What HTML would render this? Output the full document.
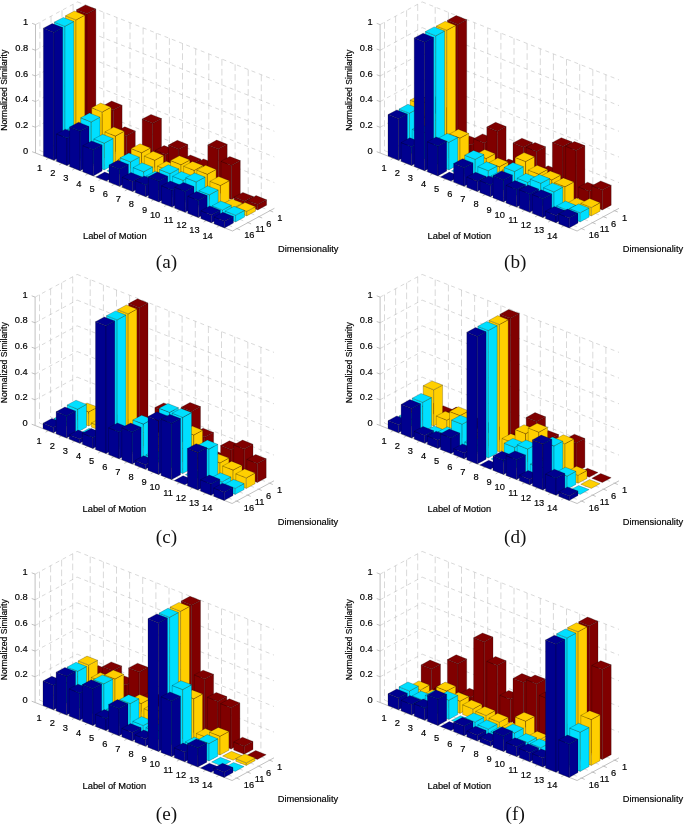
<!DOCTYPE html>
<html lang="en">
<head>
<meta charset="utf-8">
<title>Normalized similarity bar charts</title>
<style>
html,body{margin:0;padding:0;background:#fff;}
body{width:685px;height:826px;overflow:hidden;}
svg{display:block;}
.gr{fill:none;stroke:#b9b9b9;stroke-width:0.55;stroke-dasharray:4 3.8;}
.gv{fill:none;stroke:#b9b9b9;stroke-width:0.55;stroke-dasharray:6.6 3.2;}
.ax{fill:none;stroke:#a6a6a6;stroke-width:0.7;}
.b polygon{stroke:#000;stroke-width:0.32;stroke-opacity:0.7;stroke-linejoin:round;}
.t{font-family:"Liberation Sans",Arial,Helvetica,sans-serif;font-size:9.3px;fill:#000;stroke:#000;stroke-width:0.18px;}
.v{font-size:8.65px;}
.c{font-family:"Liberation Serif","Times New Roman",Times,serif;font-size:19.2px;fill:#111;}
</style>
</head>
<body>
<svg width="685" height="826" viewBox="0 0 685 826">
<rect width="685" height="826" fill="#fff"/>
<g transform="translate(0,0)">
<path class="gr" d="M35.5 127.3L77.5 104.6M77.5 104.6L274.4 182.6M35.5 101.6L77.5 79M77.5 79L274.4 157M35.5 76L77.5 53.3M77.5 53.3L274.4 131.3M35.5 50.3L77.5 27.6M77.5 27.6L274.4 105.6M35.5 24.6L77.5 1.9M77.5 1.9L274.4 79.9M39.9 150.6L236.9 228.6M51 144.6L247.9 222.6M62 138.7L259 216.7M73.1 132.7L270 210.7M48.6 158.2L90.6 135.5M61.8 163.4L103.8 140.7M74.9 168.6L116.9 145.9M88 173.8L130 151.1M101.2 179L143.1 156.3M114.3 184.2L156.3 161.5M127.4 189.4L169.4 166.7M140.5 194.6L182.5 171.9M153.7 199.8L195.7 177.1M166.8 205L208.8 182.3M179.9 210.2L221.9 187.5M193.1 215.4L235.1 192.7M206.2 220.6L248.2 197.9M219.3 225.8L261.3 203.1"/>
<path class="gv" d="M39.9 22.2L39.9 150.6M51 16.2L51 144.6M62 10.3L62 138.7M73.1 4.3L73.1 132.7M90.6 7.1L90.6 135.5M103.8 12.3L103.8 140.7M116.9 17.5L116.9 145.9M130 22.7L130 151.1M143.1 27.9L143.1 156.3M156.3 33.1L156.3 161.5M169.4 38.3L169.4 166.7M182.5 43.5L182.5 171.9M195.7 48.7L195.7 177.1M208.8 53.9L208.8 182.3M221.9 59.1L221.9 187.5M235.1 64.3L235.1 192.7M248.2 69.5L248.2 197.9M261.3 74.7L261.3 203.1"/>
<path class="ax" d="M35.5 153L35.5 24.6M35.5 153L232.5 231M232.5 231L274.4 208.3M35.5 153L32.1 151.7M35.5 127.3L32.1 126M35.5 101.6L32.1 100.3M35.5 76L32.1 74.7M35.5 50.3L32.1 49M35.5 24.6L32.1 23.3M48.6 158.2L46 159.7M61.8 163.4L59.2 164.9M74.9 168.6L72.3 170.1M88 173.8L85.4 175.3M101.2 179L98.6 180.5M114.3 184.2L111.7 185.7M127.4 189.4L124.8 190.9M140.5 194.6L137.9 196.1M153.7 199.8L151.1 201.3M166.8 205L164.2 206.5M179.9 210.2L177.3 211.7M193.1 215.4L190.5 216.9M206.2 220.6L203.6 222.1M219.3 225.8L216.7 227.3M236.9 228.6L240.1 229.9M247.9 222.6L251.1 223.9M259 216.7L262.2 218M270 210.7L273.2 212"/>
<g class="b" fill="#800000"><polygon points="76.5,138.2 87,142.4 87,13.8 76.5,9.7"/><polygon points="87,142.4 95.9,137.6 95.9,9.1 87,13.8"/><polygon points="76.5,9.7 87,13.8 95.9,9.1 85.4,4.9"/><polygon points="89.7,143.4 100.2,147.6 100.2,121.5 89.7,117.3"/><polygon points="100.2,147.6 109,142.8 109,116.7 100.2,121.5"/><polygon points="89.7,117.3 100.2,121.5 109,116.7 98.5,112.6"/><polygon points="102.8,148.6 113.3,152.8 113.3,110 102.8,105.9"/><polygon points="113.3,152.8 122.1,148 122.1,105.2 113.3,110"/><polygon points="102.8,105.9 113.3,110 122.1,105.2 111.6,101.1"/><polygon points="115.9,153.8 126.4,158 126.4,135.8 115.9,131.6"/><polygon points="126.4,158 135.3,153.2 135.3,131 126.4,135.8"/><polygon points="115.9,131.6 126.4,135.8 135.3,131 124.8,126.8"/><polygon points="129,159 139.6,163.2 139.6,159.1 129,154.9"/><polygon points="139.6,163.2 148.4,158.4 148.4,154.3 139.6,159.1"/><polygon points="129,154.9 139.6,159.1 148.4,154.3 137.9,150.1"/><polygon points="142.2,164.2 152.7,168.4 152.7,123.3 142.2,119.1"/><polygon points="152.7,168.4 161.5,163.6 161.5,118.5 152.7,123.3"/><polygon points="142.2,119.1 152.7,123.3 161.5,118.5 151,114.4"/><polygon points="155.3,169.4 165.8,173.6 165.8,154.6 155.3,150.4"/><polygon points="165.8,173.6 174.7,168.8 174.7,149.8 165.8,154.6"/><polygon points="155.3,150.4 165.8,154.6 174.7,149.8 164.1,145.6"/><polygon points="168.4,174.6 178.9,178.8 178.9,149.2 168.4,145.1"/><polygon points="178.9,178.8 187.8,174 187.8,144.5 178.9,149.2"/><polygon points="168.4,145.1 178.9,149.2 187.8,144.5 177.3,140.3"/><polygon points="181.6,179.8 192.1,184 192.1,163.9 181.6,159.8"/><polygon points="192.1,184 200.9,179.2 200.9,159.2 192.1,163.9"/><polygon points="181.6,159.8 192.1,163.9 200.9,159.2 190.4,155"/><polygon points="194.7,185 205.2,189.2 205.2,167.9 194.7,163.7"/><polygon points="205.2,189.2 214,184.4 214,163.1 205.2,167.9"/><polygon points="194.7,163.7 205.2,167.9 214,163.1 203.5,158.9"/><polygon points="207.8,190.2 218.3,194.4 218.3,149 207.8,144.9"/><polygon points="218.3,194.4 227.2,189.6 227.2,144.3 218.3,149"/><polygon points="207.8,144.9 218.3,149 227.2,144.3 216.7,140.1"/><polygon points="221,195.4 231.5,199.6 231.5,165.4 221,161.3"/><polygon points="231.5,199.6 240.3,194.8 240.3,160.6 231.5,165.4"/><polygon points="221,161.3 231.5,165.4 240.3,160.6 229.8,156.5"/><polygon points="234.1,200.6 244.6,204.8 244.6,201.3 234.1,197.1"/><polygon points="244.6,204.8 253.4,200 253.4,196.5 244.6,201.3"/><polygon points="234.1,197.1 244.6,201.3 253.4,196.5 242.9,192.4"/><polygon points="247.2,205.8 257.7,210 257.7,204.6 247.2,200.4"/><polygon points="257.7,210 266.6,205.2 266.6,199.8 257.7,204.6"/><polygon points="247.2,200.4 257.7,204.6 266.6,199.8 256.1,195.6"/></g>
<g class="b" fill="#ffcf00"><polygon points="65.5,144.2 76,148.3 76,19.9 65.5,15.8"/><polygon points="76,148.3 84.8,143.6 84.8,15.2 76,19.9"/><polygon points="65.5,15.8 76,19.9 84.8,15.2 74.3,11"/><polygon points="78.6,149.4 89.1,153.5 89.1,127.5 78.6,123.3"/><polygon points="89.1,153.5 98,148.8 98,122.7 89.1,127.5"/><polygon points="78.6,123.3 89.1,127.5 98,122.7 87.4,118.5"/><polygon points="91.7,154.6 102.2,158.7 102.2,112 91.7,107.8"/><polygon points="102.2,158.7 111.1,154 111.1,107.2 102.2,112"/><polygon points="91.7,107.8 102.2,112 111.1,107.2 100.6,103.1"/><polygon points="104.9,159.8 115.4,163.9 115.4,136.1 104.9,131.9"/><polygon points="115.4,163.9 124.2,159.2 124.2,131.3 115.4,136.1"/><polygon points="104.9,131.9 115.4,136.1 124.2,131.3 113.7,127.1"/><polygon points="118,165 128.5,169.1 128.5,163.7 118,159.6"/><polygon points="128.5,169.1 137.3,164.4 137.3,159 128.5,163.7"/><polygon points="118,159.6 128.5,163.7 137.3,159 126.8,154.8"/><polygon points="131.1,170.2 141.6,174.3 141.6,152.8 131.1,148.6"/><polygon points="141.6,174.3 150.5,169.6 150.5,148 141.6,152.8"/><polygon points="131.1,148.6 141.6,152.8 150.5,148 140,143.8"/><polygon points="144.3,175.4 154.8,179.5 154.8,160.3 144.3,156.1"/><polygon points="154.8,179.5 163.6,174.8 163.6,155.5 154.8,160.3"/><polygon points="144.3,156.1 154.8,160.3 163.6,155.5 153.1,151.3"/><polygon points="157.4,180.6 167.9,184.7 167.9,170.2 157.4,166.1"/><polygon points="167.9,184.7 176.7,180 176.7,165.5 167.9,170.2"/><polygon points="157.4,166.1 167.9,170.2 176.7,165.5 166.2,161.3"/><polygon points="170.5,185.8 181,189.9 181,164.8 170.5,160.6"/><polygon points="181,189.9 189.9,185.2 189.9,160 181,164.8"/><polygon points="170.5,160.6 181,164.8 189.9,160 179.4,155.8"/><polygon points="183.6,191 194.2,195.1 194.2,170.4 183.6,166.2"/><polygon points="194.2,195.1 203,190.4 203,165.6 194.2,170.4"/><polygon points="183.6,166.2 194.2,170.4 203,165.6 192.5,161.4"/><polygon points="196.8,196.2 207.3,200.3 207.3,174.3 196.8,170.1"/><polygon points="207.3,200.3 216.1,195.6 216.1,169.5 207.3,174.3"/><polygon points="196.8,170.1 207.3,174.3 216.1,169.5 205.6,165.3"/><polygon points="209.9,201.4 220.4,205.5 220.4,185.5 209.9,181.3"/><polygon points="220.4,205.5 229.3,200.8 229.3,180.7 220.4,185.5"/><polygon points="209.9,181.3 220.4,185.5 229.3,180.7 218.7,176.6"/><polygon points="223,206.6 233.5,210.7 233.5,207.9 223,203.8"/><polygon points="233.5,210.7 242.4,206 242.4,203.1 233.5,207.9"/><polygon points="223,203.8 233.5,207.9 242.4,203.1 231.9,199"/><polygon points="236.2,211.8 246.7,215.9 246.7,211.4 236.2,207.3"/><polygon points="246.7,215.9 255.5,211.2 255.5,206.7 246.7,211.4"/><polygon points="236.2,207.3 246.7,211.4 255.5,206.7 245,202.5"/></g>
<g class="b" fill="#00dfff"><polygon points="54.4,150.2 64.9,154.3 64.9,26.3 54.4,22.1"/><polygon points="64.9,154.3 73.8,149.5 73.8,21.5 64.9,26.3"/><polygon points="54.4,22.1 64.9,26.3 73.8,21.5 63.3,17.4"/><polygon points="67.6,155.3 78.1,159.5 78.1,133.4 67.6,129.3"/><polygon points="78.1,159.5 86.9,154.7 86.9,128.7 78.1,133.4"/><polygon points="67.6,129.3 78.1,133.4 86.9,128.7 76.4,124.5"/><polygon points="80.7,160.6 91.2,164.7 91.2,122 80.7,117.8"/><polygon points="91.2,164.7 100,159.9 100,117.2 91.2,122"/><polygon points="80.7,117.8 91.2,122 100,117.2 89.5,113"/><polygon points="93.8,165.8 104.3,169.9 104.3,143.2 93.8,139"/><polygon points="104.3,169.9 113.2,165.1 113.2,138.4 104.3,143.2"/><polygon points="93.8,139 104.3,143.2 113.2,138.4 102.7,134.3"/><polygon points="106.9,170.9 115.8,166.2 126.3,170.3 117.5,175.1"/><polygon points="120.1,176.2 130.6,180.3 130.6,161.9 120.1,157.8"/><polygon points="130.6,180.3 139.4,175.5 139.4,157.2 130.6,161.9"/><polygon points="120.1,157.8 130.6,161.9 139.4,157.2 128.9,153"/><polygon points="133.2,181.3 143.7,185.5 143.7,171.8 133.2,167.6"/><polygon points="143.7,185.5 152.6,180.7 152.6,167 143.7,171.8"/><polygon points="133.2,167.6 143.7,171.8 152.6,167 142,162.8"/><polygon points="146.3,186.5 156.8,190.7 156.8,180.2 146.3,176"/><polygon points="156.8,190.7 165.7,185.9 165.7,175.4 156.8,180.2"/><polygon points="146.3,176 156.8,180.2 165.7,175.4 155.2,171.2"/><polygon points="159.5,191.8 170,195.9 170,173.7 159.5,169.5"/><polygon points="170,195.9 178.8,191.1 178.8,168.9 170,173.7"/><polygon points="159.5,169.5 170,173.7 178.8,168.9 168.3,164.8"/><polygon points="172.6,197 183.1,201.1 183.1,180.4 172.6,176.3"/><polygon points="183.1,201.1 191.9,196.3 191.9,175.7 183.1,180.4"/><polygon points="172.6,176.3 183.1,180.4 191.9,175.7 181.4,171.5"/><polygon points="185.7,202.2 196.2,206.3 196.2,181.9 185.7,177.8"/><polygon points="196.2,206.3 205.1,201.5 205.1,177.1 196.2,181.9"/><polygon points="185.7,177.8 196.2,181.9 205.1,177.1 194.6,173"/><polygon points="198.9,207.3 209.4,211.5 209.4,194.8 198.9,190.7"/><polygon points="209.4,211.5 218.2,206.7 218.2,190 209.4,194.8"/><polygon points="198.9,190.7 209.4,194.8 218.2,190 207.7,185.9"/><polygon points="212,212.5 222.5,216.7 222.5,210 212,205.9"/><polygon points="222.5,216.7 231.3,211.9 231.3,205.3 222.5,210"/><polygon points="212,205.9 222.5,210 231.3,205.3 220.8,201.1"/><polygon points="225.1,217.8 235.6,221.9 235.6,215.2 225.1,211.1"/><polygon points="235.6,221.9 244.5,217.1 244.5,210.5 235.6,215.2"/><polygon points="225.1,211.1 235.6,215.2 244.5,210.5 234,206.3"/></g>
<g class="b" fill="#00008f"><polygon points="43.4,156.1 53.9,160.3 53.9,32.4 43.4,28.2"/><polygon points="53.9,160.3 62.7,155.5 62.7,27.6 53.9,32.4"/><polygon points="43.4,28.2 53.9,32.4 62.7,27.6 52.2,23.5"/><polygon points="56.5,161.3 67,165.5 67,138.1 56.5,134"/><polygon points="67,165.5 75.9,160.7 75.9,133.4 67,138.1"/><polygon points="56.5,134 67,138.1 75.9,133.4 65.3,129.2"/><polygon points="69.6,166.5 80.1,170.7 80.1,131.1 69.6,127"/><polygon points="80.1,170.7 89,165.9 89,126.4 80.1,131.1"/><polygon points="69.6,127 80.1,131.1 89,126.4 78.5,122.2"/><polygon points="82.8,171.7 93.3,175.9 93.3,149.8 82.8,145.7"/><polygon points="93.3,175.9 102.1,171.1 102.1,145 93.3,149.8"/><polygon points="82.8,145.7 93.3,149.8 102.1,145 91.6,140.9"/><polygon points="95.9,176.9 104.7,172.1 115.2,176.3 106.4,181.1"/><polygon points="109,182.1 119.5,186.3 119.5,169.2 109,165"/><polygon points="119.5,186.3 128.4,181.5 128.4,164.4 119.5,169.2"/><polygon points="109,165 119.5,169.2 128.4,164.4 117.9,160.3"/><polygon points="122.2,187.3 132.7,191.5 132.7,181.5 122.2,177.3"/><polygon points="132.7,191.5 141.5,186.7 141.5,176.7 132.7,181.5"/><polygon points="122.2,177.3 132.7,181.5 141.5,176.7 131,172.5"/><polygon points="135.3,192.5 145.8,196.7 145.8,184.9 135.3,180.7"/><polygon points="145.8,196.7 154.6,191.9 154.6,180.1 145.8,184.9"/><polygon points="135.3,180.7 145.8,184.9 154.6,180.1 144.1,175.9"/><polygon points="148.4,197.7 158.9,201.9 158.9,181 148.4,176.8"/><polygon points="158.9,201.9 167.8,197.1 167.8,176.2 158.9,181"/><polygon points="148.4,176.8 158.9,181 167.8,176.2 157.3,172"/><polygon points="161.5,202.9 172.1,207.1 172.1,190 161.5,185.8"/><polygon points="172.1,207.1 180.9,202.3 180.9,185.2 172.1,190"/><polygon points="161.5,185.8 172.1,190 180.9,185.2 170.4,181.1"/><polygon points="174.7,208.1 185.2,212.3 185.2,191.4 174.7,187.2"/><polygon points="185.2,212.3 194,207.5 194,186.6 185.2,191.4"/><polygon points="174.7,187.2 185.2,191.4 194,186.6 183.5,182.4"/><polygon points="187.8,213.3 198.3,217.5 198.3,200.4 187.8,196.2"/><polygon points="198.3,217.5 207.2,212.7 207.2,195.6 198.3,200.4"/><polygon points="187.8,196.2 198.3,200.4 207.2,195.6 196.6,191.5"/><polygon points="200.9,218.5 211.4,222.7 211.4,215 200.9,210.8"/><polygon points="211.4,222.7 220.3,217.9 220.3,210.2 211.4,215"/><polygon points="200.9,210.8 211.4,215 220.3,210.2 209.8,206"/><polygon points="214.1,223.7 224.6,227.9 224.6,221.2 214.1,217"/><polygon points="224.6,227.9 233.4,223.1 233.4,216.4 224.6,221.2"/><polygon points="214.1,217 224.6,221.2 233.4,216.4 222.9,212.3"/></g>
<text class="t" text-anchor="end" x="28.2" y="153.5">0</text><text class="t" text-anchor="end" x="28.2" y="127.8">0.2</text><text class="t" text-anchor="end" x="28.2" y="102.1">0.4</text><text class="t" text-anchor="end" x="28.2" y="76.5">0.6</text><text class="t" text-anchor="end" x="28.2" y="50.8">0.8</text><text class="t" text-anchor="end" x="28.2" y="25.1">1</text><text class="t" text-anchor="end" x="42.1" y="171">1</text><text class="t" text-anchor="end" x="55.3" y="176.2">2</text><text class="t" text-anchor="end" x="68.4" y="181.4">3</text><text class="t" text-anchor="end" x="81.5" y="186.6">4</text><text class="t" text-anchor="end" x="94.7" y="191.8">5</text><text class="t" text-anchor="end" x="107.8" y="197">6</text><text class="t" text-anchor="end" x="120.9" y="202.2">7</text><text class="t" text-anchor="end" x="134" y="207.4">8</text><text class="t" text-anchor="end" x="147.2" y="212.6">9</text><text class="t" text-anchor="end" x="160.3" y="217.8">10</text><text class="t" text-anchor="end" x="173.4" y="223">11</text><text class="t" text-anchor="end" x="186.6" y="228.2">12</text><text class="t" text-anchor="end" x="199.7" y="233.4">13</text><text class="t" text-anchor="end" x="212.8" y="238.6">14</text><text class="t" x="244.2" y="238.4">16</text><text class="t" x="255.2" y="232.4">11</text><text class="t" x="266.3" y="226.5">6</text><text class="t" x="277.3" y="220.5">1</text><text class="t v" text-anchor="middle" transform="translate(7.2,90.3) rotate(-90)">Normalized Similarity</text><text class="t" text-anchor="middle" x="114.8" y="239">Label of Motion</text><text class="t" text-anchor="middle" x="308.3" y="252.4">Dimensionality</text>
</g>
<g transform="translate(344.6,0)">
<path class="gr" d="M35.5 127.3L77.5 104.6M77.5 104.6L274.4 182.6M35.5 101.6L77.5 79M77.5 79L274.4 157M35.5 76L77.5 53.3M77.5 53.3L274.4 131.3M35.5 50.3L77.5 27.6M77.5 27.6L274.4 105.6M35.5 24.6L77.5 1.9M77.5 1.9L274.4 79.9M39.9 150.6L236.9 228.6M51 144.6L247.9 222.6M62 138.7L259 216.7M73.1 132.7L270 210.7M48.6 158.2L90.6 135.5M61.8 163.4L103.8 140.7M74.9 168.6L116.9 145.9M88 173.8L130 151.1M101.2 179L143.1 156.3M114.3 184.2L156.3 161.5M127.4 189.4L169.4 166.7M140.5 194.6L182.5 171.9M153.7 199.8L195.7 177.1M166.8 205L208.8 182.3M179.9 210.2L221.9 187.5M193.1 215.4L235.1 192.7M206.2 220.6L248.2 197.9M219.3 225.8L261.3 203.1"/>
<path class="gv" d="M39.9 22.2L39.9 150.6M51 16.2L51 144.6M62 10.3L62 138.7M73.1 4.3L73.1 132.7M90.6 7.1L90.6 135.5M103.8 12.3L103.8 140.7M116.9 17.5L116.9 145.9M130 22.7L130 151.1M143.1 27.9L143.1 156.3M156.3 33.1L156.3 161.5M169.4 38.3L169.4 166.7M182.5 43.5L182.5 171.9M195.7 48.7L195.7 177.1M208.8 53.9L208.8 182.3M221.9 59.1L221.9 187.5M235.1 64.3L235.1 192.7M248.2 69.5L248.2 197.9M261.3 74.7L261.3 203.1"/>
<path class="ax" d="M35.5 153L35.5 24.6M35.5 153L232.5 231M232.5 231L274.4 208.3M35.5 153L32.1 151.7M35.5 127.3L32.1 126M35.5 101.6L32.1 100.3M35.5 76L32.1 74.7M35.5 50.3L32.1 49M35.5 24.6L32.1 23.3M48.6 158.2L46 159.7M61.8 163.4L59.2 164.9M74.9 168.6L72.3 170.1M88 173.8L85.4 175.3M101.2 179L98.6 180.5M114.3 184.2L111.7 185.7M127.4 189.4L124.8 190.9M140.5 194.6L137.9 196.1M153.7 199.8L151.1 201.3M166.8 205L164.2 206.5M179.9 210.2L177.3 211.7M193.1 215.4L190.5 216.9M206.2 220.6L203.6 222.1M219.3 225.8L216.7 227.3M236.9 228.6L240.1 229.9M247.9 222.6L251.1 223.9M259 216.7L262.2 218M270 210.7L273.2 212"/>
<g class="b" fill="#800000"><polygon points="76.5,138.2 87,142.4 87,103.5 76.5,99.3"/><polygon points="87,142.4 95.9,137.6 95.9,98.7 87,103.5"/><polygon points="76.5,99.3 87,103.5 95.9,98.7 85.4,94.5"/><polygon points="89.7,143.4 100.2,147.6 100.2,115.1 89.7,110.9"/><polygon points="100.2,147.6 109,142.8 109,110.3 100.2,115.1"/><polygon points="89.7,110.9 100.2,115.1 109,110.3 98.5,106.1"/><polygon points="102.8,148.6 113.3,152.8 113.3,24.5 102.8,20.3"/><polygon points="113.3,152.8 122.1,148 122.1,19.7 113.3,24.5"/><polygon points="102.8,20.3 113.3,24.5 122.1,19.7 111.6,15.6"/><polygon points="115.9,153.8 126.4,158 126.4,144.9 115.9,140.7"/><polygon points="126.4,158 135.3,153.2 135.3,140.1 126.4,144.9"/><polygon points="115.9,140.7 126.4,144.9 135.3,140.1 124.8,135.9"/><polygon points="129,159 139.6,163.2 139.6,142.9 129,138.7"/><polygon points="139.6,163.2 148.4,158.4 148.4,138.1 139.6,142.9"/><polygon points="129,138.7 139.6,142.9 148.4,138.1 137.9,133.9"/><polygon points="142.2,164.2 152.7,168.4 152.7,131.3 142.2,127.1"/><polygon points="152.7,168.4 161.5,163.6 161.5,126.5 152.7,131.3"/><polygon points="142.2,127.1 152.7,131.3 161.5,126.5 151,122.3"/><polygon points="155.3,169.4 165.8,173.6 165.8,167.9 155.3,163.8"/><polygon points="165.8,173.6 174.7,168.8 174.7,163.1 165.8,167.9"/><polygon points="155.3,163.8 165.8,167.9 174.7,163.1 164.1,159"/><polygon points="168.4,174.6 178.9,178.8 178.9,147.2 168.4,143"/><polygon points="178.9,178.8 187.8,174 187.8,142.4 178.9,147.2"/><polygon points="168.4,143 178.9,147.2 187.8,142.4 177.3,138.2"/><polygon points="181.6,179.8 192.1,184 192.1,151.5 181.6,147.3"/><polygon points="192.1,184 200.9,179.2 200.9,146.7 192.1,151.5"/><polygon points="181.6,147.3 192.1,151.5 200.9,146.7 190.4,142.5"/><polygon points="194.7,185 205.2,189.2 205.2,174.7 194.7,170.5"/><polygon points="205.2,189.2 214,184.4 214,169.9 205.2,174.7"/><polygon points="194.7,170.5 205.2,174.7 214,169.9 203.5,165.7"/><polygon points="207.8,190.2 218.3,194.4 218.3,146.6 207.8,142.4"/><polygon points="218.3,194.4 227.2,189.6 227.2,141.8 218.3,146.6"/><polygon points="207.8,142.4 218.3,146.6 227.2,141.8 216.7,137.7"/><polygon points="221,195.4 231.5,199.6 231.5,150.4 221,146.2"/><polygon points="231.5,199.6 240.3,194.8 240.3,145.6 231.5,150.4"/><polygon points="221,146.2 231.5,150.4 240.3,145.6 229.8,141.5"/><polygon points="234.1,200.6 244.6,204.8 244.6,191.2 234.1,187"/><polygon points="244.6,204.8 253.4,200 253.4,186.4 244.6,191.2"/><polygon points="234.1,187 244.6,191.2 253.4,186.4 242.9,182.2"/><polygon points="247.2,205.8 257.7,210 257.7,189.9 247.2,185.8"/><polygon points="257.7,210 266.6,205.2 266.6,185.2 257.7,189.9"/><polygon points="247.2,185.8 257.7,189.9 266.6,185.2 256.1,181"/></g>
<g class="b" fill="#ffcf00"><polygon points="65.5,144.2 76,148.3 76,104.3 65.5,100.1"/><polygon points="76,148.3 84.8,143.6 84.8,99.5 76,104.3"/><polygon points="65.5,100.1 76,104.3 84.8,99.5 74.3,95.4"/><polygon points="78.6,149.4 89.1,153.5 89.1,121.1 78.6,116.9"/><polygon points="89.1,153.5 98,148.8 98,116.3 89.1,121.1"/><polygon points="78.6,116.9 89.1,121.1 98,116.3 87.4,112.1"/><polygon points="91.7,154.6 102.2,158.7 102.2,30.2 91.7,26.1"/><polygon points="102.2,158.7 111.1,154 111.1,25.4 102.2,30.2"/><polygon points="91.7,26.1 102.2,30.2 111.1,25.4 100.6,21.3"/><polygon points="104.9,159.8 115.4,163.9 115.4,138.1 104.9,134"/><polygon points="115.4,163.9 124.2,159.2 124.2,133.4 115.4,138.1"/><polygon points="104.9,134 115.4,138.1 124.2,133.4 113.7,129.2"/><polygon points="118,165 128.5,169.1 128.5,163.7 118,159.6"/><polygon points="128.5,169.1 137.3,164.4 137.3,159 128.5,163.7"/><polygon points="118,159.6 128.5,163.7 137.3,159 126.8,154.8"/><polygon points="131.1,170.2 141.6,174.3 141.6,158.5 131.1,154.4"/><polygon points="141.6,174.3 150.5,169.6 150.5,153.8 141.6,158.5"/><polygon points="131.1,154.4 141.6,158.5 150.5,153.8 140,149.6"/><polygon points="144.3,175.4 154.8,179.5 154.8,166.8 144.3,162.7"/><polygon points="154.8,179.5 163.6,174.8 163.6,162.1 154.8,166.8"/><polygon points="144.3,162.7 154.8,166.8 163.6,162.1 153.1,157.9"/><polygon points="157.4,180.6 167.9,184.7 167.9,174.2 157.4,170.1"/><polygon points="167.9,184.7 176.7,180 176.7,169.4 167.9,174.2"/><polygon points="157.4,170.1 167.9,174.2 176.7,169.4 166.2,165.3"/><polygon points="170.5,185.8 181,189.9 181,161.6 170.5,157.4"/><polygon points="181,189.9 189.9,185.2 189.9,156.8 181,161.6"/><polygon points="170.5,157.4 181,161.6 189.9,156.8 179.4,152.6"/><polygon points="183.6,191 194.2,195.1 194.2,174.2 183.6,170.1"/><polygon points="194.2,195.1 203,190.4 203,169.4 194.2,174.2"/><polygon points="183.6,170.1 194.2,174.2 203,169.4 192.5,165.3"/><polygon points="196.8,196.2 207.3,200.3 207.3,179.9 196.8,175.8"/><polygon points="207.3,200.3 216.1,195.6 216.1,175.1 207.3,179.9"/><polygon points="196.8,175.8 207.3,179.9 216.1,175.1 205.6,171"/><polygon points="209.9,201.4 220.4,205.5 220.4,186.8 209.9,182.6"/><polygon points="220.4,205.5 229.3,200.8 229.3,182 220.4,186.8"/><polygon points="209.9,182.6 220.4,186.8 229.3,182 218.7,177.9"/><polygon points="223,206.6 233.5,210.7 233.5,207 223,202.9"/><polygon points="233.5,210.7 242.4,206 242.4,202.2 233.5,207"/><polygon points="223,202.9 233.5,207 242.4,202.2 231.9,198.1"/><polygon points="236.2,211.8 246.7,215.9 246.7,207.5 236.2,203.3"/><polygon points="246.7,215.9 255.5,211.2 255.5,202.7 246.7,207.5"/><polygon points="236.2,203.3 246.7,207.5 255.5,202.7 245,198.5"/></g>
<g class="b" fill="#00dfff"><polygon points="54.4,150.2 64.9,154.3 64.9,113.2 54.4,109.1"/><polygon points="64.9,154.3 73.8,149.5 73.8,108.4 64.9,113.2"/><polygon points="54.4,109.1 64.9,113.2 73.8,108.4 63.3,104.3"/><polygon points="67.6,155.3 78.1,159.5 78.1,133.4 67.6,129.3"/><polygon points="78.1,159.5 86.9,154.7 86.9,128.7 78.1,133.4"/><polygon points="67.6,129.3 78.1,133.4 86.9,128.7 76.4,124.5"/><polygon points="80.7,160.6 91.2,164.7 91.2,35.8 80.7,31.6"/><polygon points="91.2,164.7 100,159.9 100,31 91.2,35.8"/><polygon points="80.7,31.6 91.2,35.8 100,31 89.5,26.9"/><polygon points="93.8,165.8 104.3,169.9 104.3,142.3 93.8,138.1"/><polygon points="104.3,169.9 113.2,165.1 113.2,137.5 104.3,142.3"/><polygon points="93.8,138.1 104.3,142.3 113.2,137.5 102.7,133.4"/><polygon points="106.9,170.9 115.8,166.2 126.3,170.3 117.5,175.1"/><polygon points="120.1,176.2 130.6,180.3 130.6,159.4 120.1,155.2"/><polygon points="130.6,180.3 139.4,175.5 139.4,154.6 130.6,159.4"/><polygon points="120.1,155.2 130.6,159.4 139.4,154.6 128.9,150.4"/><polygon points="133.2,181.3 143.7,185.5 143.7,170.7 133.2,166.6"/><polygon points="143.7,185.5 152.6,180.7 152.6,166 143.7,170.7"/><polygon points="133.2,166.6 143.7,170.7 152.6,166 142,161.8"/><polygon points="146.3,186.5 156.8,190.7 156.8,180.2 146.3,176"/><polygon points="156.8,190.7 165.7,185.9 165.7,175.4 156.8,180.2"/><polygon points="146.3,176 156.8,180.2 165.7,175.4 155.2,171.2"/><polygon points="159.5,191.8 170,195.9 170,171.5 159.5,167.4"/><polygon points="170,195.9 178.8,191.1 178.8,166.7 170,171.5"/><polygon points="159.5,167.4 170,171.5 178.8,166.7 168.3,162.6"/><polygon points="172.6,197 183.1,201.1 183.1,182.4 172.6,178.2"/><polygon points="183.1,201.1 191.9,196.3 191.9,177.6 183.1,182.4"/><polygon points="172.6,178.2 183.1,182.4 191.9,177.6 181.4,173.4"/><polygon points="185.7,202.2 196.2,206.3 196.2,183.3 185.7,179.2"/><polygon points="196.2,206.3 205.1,201.5 205.1,178.6 196.2,183.3"/><polygon points="185.7,179.2 196.2,183.3 205.1,178.6 194.6,174.4"/><polygon points="198.9,207.3 209.4,211.5 209.4,191.9 198.9,187.7"/><polygon points="209.4,211.5 218.2,206.7 218.2,187.1 209.4,191.9"/><polygon points="198.9,187.7 209.4,191.9 218.2,187.1 207.7,182.9"/><polygon points="212,212.5 222.5,216.7 222.5,210 212,205.9"/><polygon points="222.5,216.7 231.3,211.9 231.3,205.3 222.5,210"/><polygon points="212,205.9 222.5,210 231.3,205.3 220.8,201.1"/><polygon points="225.1,217.8 235.6,221.9 235.6,212.8 225.1,208.6"/><polygon points="235.6,221.9 244.5,217.1 244.5,208 235.6,212.8"/><polygon points="225.1,208.6 235.6,212.8 244.5,208 234,203.9"/></g>
<g class="b" fill="#00008f"><polygon points="43.4,156.1 53.9,160.3 53.9,118.8 43.4,114.6"/><polygon points="53.9,160.3 62.7,155.5 62.7,114 53.9,118.8"/><polygon points="43.4,114.6 53.9,118.8 62.7,114 52.2,109.9"/><polygon points="56.5,161.3 67,165.5 67,146.7 56.5,142.6"/><polygon points="67,165.5 75.9,160.7 75.9,142 67,146.7"/><polygon points="56.5,142.6 67,146.7 75.9,142 65.3,137.8"/><polygon points="69.6,166.5 80.1,170.7 80.1,42.2 69.6,38"/><polygon points="80.1,170.7 89,165.9 89,37.4 80.1,42.2"/><polygon points="69.6,38 80.1,42.2 89,37.4 78.5,33.2"/><polygon points="82.8,171.7 93.3,175.9 93.3,146 82.8,141.8"/><polygon points="93.3,175.9 102.1,171.1 102.1,141.2 93.3,146"/><polygon points="82.8,141.8 93.3,146 102.1,141.2 91.6,137"/><polygon points="95.9,176.9 104.7,172.1 115.2,176.3 106.4,181.1"/><polygon points="109,182.1 119.5,186.3 119.5,167.7 109,163.5"/><polygon points="119.5,186.3 128.4,181.5 128.4,162.9 119.5,167.7"/><polygon points="109,163.5 119.5,167.7 128.4,162.9 117.9,158.7"/><polygon points="122.2,187.3 132.7,191.5 132.7,181.2 122.2,177"/><polygon points="132.7,191.5 141.5,186.7 141.5,176.4 132.7,181.2"/><polygon points="122.2,177 132.7,181.2 141.5,176.4 131,172.3"/><polygon points="135.3,192.5 145.8,196.7 145.8,184.9 135.3,180.7"/><polygon points="145.8,196.7 154.6,191.9 154.6,180.1 145.8,184.9"/><polygon points="135.3,180.7 145.8,184.9 154.6,180.1 144.1,175.9"/><polygon points="148.4,197.7 158.9,201.9 158.9,179.9 148.4,175.8"/><polygon points="158.9,201.9 167.8,197.1 167.8,175.1 158.9,179.9"/><polygon points="148.4,175.8 158.9,179.9 167.8,175.1 157.3,171"/><polygon points="161.5,202.9 172.1,207.1 172.1,189.5 161.5,185.3"/><polygon points="172.1,207.1 180.9,202.3 180.9,184.7 172.1,189.5"/><polygon points="161.5,185.3 172.1,189.5 180.9,184.7 170.4,180.6"/><polygon points="174.7,208.1 185.2,212.3 185.2,193.9 174.7,189.8"/><polygon points="185.2,212.3 194,207.5 194,189.1 185.2,193.9"/><polygon points="174.7,189.8 185.2,193.9 194,189.1 183.5,185"/><polygon points="187.8,213.3 198.3,217.5 198.3,198.7 187.8,194.6"/><polygon points="198.3,217.5 207.2,212.7 207.2,194 198.3,198.7"/><polygon points="187.8,194.6 198.3,198.7 207.2,194 196.6,189.8"/><polygon points="200.9,218.5 211.4,222.7 211.4,215.4 200.9,211.2"/><polygon points="211.4,222.7 220.3,217.9 220.3,210.6 211.4,215.4"/><polygon points="200.9,211.2 211.4,215.4 220.3,210.6 209.8,206.4"/><polygon points="214.1,223.7 224.6,227.9 224.6,218 214.1,213.8"/><polygon points="224.6,227.9 233.4,223.1 233.4,213.2 224.6,218"/><polygon points="214.1,213.8 224.6,218 233.4,213.2 222.9,209.1"/></g>
<text class="t" text-anchor="end" x="28.2" y="153.5">0</text><text class="t" text-anchor="end" x="28.2" y="127.8">0.2</text><text class="t" text-anchor="end" x="28.2" y="102.1">0.4</text><text class="t" text-anchor="end" x="28.2" y="76.5">0.6</text><text class="t" text-anchor="end" x="28.2" y="50.8">0.8</text><text class="t" text-anchor="end" x="28.2" y="25.1">1</text><text class="t" text-anchor="end" x="42.1" y="171">1</text><text class="t" text-anchor="end" x="55.3" y="176.2">2</text><text class="t" text-anchor="end" x="68.4" y="181.4">3</text><text class="t" text-anchor="end" x="81.5" y="186.6">4</text><text class="t" text-anchor="end" x="94.7" y="191.8">5</text><text class="t" text-anchor="end" x="107.8" y="197">6</text><text class="t" text-anchor="end" x="120.9" y="202.2">7</text><text class="t" text-anchor="end" x="134" y="207.4">8</text><text class="t" text-anchor="end" x="147.2" y="212.6">9</text><text class="t" text-anchor="end" x="160.3" y="217.8">10</text><text class="t" text-anchor="end" x="173.4" y="223">11</text><text class="t" text-anchor="end" x="186.6" y="228.2">12</text><text class="t" text-anchor="end" x="199.7" y="233.4">13</text><text class="t" text-anchor="end" x="212.8" y="238.6">14</text><text class="t" x="244.2" y="238.4">16</text><text class="t" x="255.2" y="232.4">11</text><text class="t" x="266.3" y="226.5">6</text><text class="t" x="277.3" y="220.5">1</text><text class="t v" text-anchor="middle" transform="translate(7.2,90.3) rotate(-90)">Normalized Similarity</text><text class="t" text-anchor="middle" x="114.8" y="239">Label of Motion</text><text class="t" text-anchor="middle" x="308.3" y="252.4">Dimensionality</text>
</g>
<g transform="translate(-0.4,272.5)">
<path class="gr" d="M35.5 127.3L77.5 104.6M77.5 104.6L274.4 182.6M35.5 101.6L77.5 79M77.5 79L274.4 157M35.5 76L77.5 53.3M77.5 53.3L274.4 131.3M35.5 50.3L77.5 27.6M77.5 27.6L274.4 105.6M35.5 24.6L77.5 1.9M77.5 1.9L274.4 79.9M39.9 150.6L236.9 228.6M51 144.6L247.9 222.6M62 138.7L259 216.7M73.1 132.7L270 210.7M48.6 158.2L90.6 135.5M61.8 163.4L103.8 140.7M74.9 168.6L116.9 145.9M88 173.8L130 151.1M101.2 179L143.1 156.3M114.3 184.2L156.3 161.5M127.4 189.4L169.4 166.7M140.5 194.6L182.5 171.9M153.7 199.8L195.7 177.1M166.8 205L208.8 182.3M179.9 210.2L221.9 187.5M193.1 215.4L235.1 192.7M206.2 220.6L248.2 197.9M219.3 225.8L261.3 203.1"/>
<path class="gv" d="M39.9 22.2L39.9 150.6M51 16.2L51 144.6M62 10.3L62 138.7M73.1 4.3L73.1 132.7M90.6 7.1L90.6 135.5M103.8 12.3L103.8 140.7M116.9 17.5L116.9 145.9M130 22.7L130 151.1M143.1 27.9L143.1 156.3M156.3 33.1L156.3 161.5M169.4 38.3L169.4 166.7M182.5 43.5L182.5 171.9M195.7 48.7L195.7 177.1M208.8 53.9L208.8 182.3M221.9 59.1L221.9 187.5M235.1 64.3L235.1 192.7M248.2 69.5L248.2 197.9M261.3 74.7L261.3 203.1"/>
<path class="ax" d="M35.5 153L35.5 24.6M35.5 153L232.5 231M232.5 231L274.4 208.3M35.5 153L32.1 151.7M35.5 127.3L32.1 126M35.5 101.6L32.1 100.3M35.5 76L32.1 74.7M35.5 50.3L32.1 49M35.5 24.6L32.1 23.3M48.6 158.2L46 159.7M61.8 163.4L59.2 164.9M74.9 168.6L72.3 170.1M88 173.8L85.4 175.3M101.2 179L98.6 180.5M114.3 184.2L111.7 185.7M127.4 189.4L124.8 190.9M140.5 194.6L137.9 196.1M153.7 199.8L151.1 201.3M166.8 205L164.2 206.5M179.9 210.2L177.3 211.7M193.1 215.4L190.5 216.9M206.2 220.6L203.6 222.1M219.3 225.8L216.7 227.3M236.9 228.6L240.1 229.9M247.9 222.6L251.1 223.9M259 216.7L262.2 218M270 210.7L273.2 212"/>
<g class="b" fill="#800000"><polygon points="76.5,138.2 87,142.4 87,141.7 76.5,137.6"/><polygon points="87,142.4 95.9,137.6 95.9,137 87,141.7"/><polygon points="76.5,137.6 87,141.7 95.9,137 85.4,132.8"/><polygon points="89.7,143.4 100.2,147.6 100.2,143.7 89.7,139.6"/><polygon points="100.2,147.6 109,142.8 109,138.9 100.2,143.7"/><polygon points="89.7,139.6 100.2,143.7 109,138.9 98.5,134.8"/><polygon points="102.8,148.6 113.3,152.8 113.3,148.7 102.8,144.5"/><polygon points="113.3,152.8 122.1,148 122.1,143.9 113.3,148.7"/><polygon points="102.8,144.5 113.3,148.7 122.1,143.9 111.6,139.7"/><polygon points="115.9,153.8 126.4,158 126.4,153.9 115.9,149.7"/><polygon points="126.4,158 135.3,153.2 135.3,149.1 126.4,153.9"/><polygon points="115.9,149.7 126.4,153.9 135.3,149.1 124.8,144.9"/><polygon points="129,159 139.6,163.2 139.6,35.3 129,31.1"/><polygon points="139.6,163.2 148.4,158.4 148.4,30.5 139.6,35.3"/><polygon points="129,31.1 139.6,35.3 148.4,30.5 137.9,26.3"/><polygon points="142.2,164.2 152.7,168.4 152.7,155.3 142.2,151.1"/><polygon points="152.7,168.4 161.5,163.6 161.5,150.5 152.7,155.3"/><polygon points="142.2,151.1 152.7,155.3 161.5,150.5 151,146.3"/><polygon points="155.3,169.4 165.8,173.6 165.8,139.3 155.3,135.1"/><polygon points="165.8,173.6 174.7,168.8 174.7,134.5 165.8,139.3"/><polygon points="155.3,135.1 165.8,139.3 174.7,134.5 164.1,130.4"/><polygon points="168.4,174.6 178.9,178.8 178.9,165.7 168.4,161.5"/><polygon points="178.9,178.8 187.8,174 187.8,160.9 178.9,165.7"/><polygon points="168.4,161.5 178.9,165.7 187.8,160.9 177.3,156.7"/><polygon points="181.6,179.8 192.1,184 192.1,138.9 181.6,134.7"/><polygon points="192.1,184 200.9,179.2 200.9,134.1 192.1,138.9"/><polygon points="181.6,134.7 192.1,138.9 200.9,134.1 190.4,130"/><polygon points="194.7,185 205.2,189.2 205.2,164.6 194.7,160.5"/><polygon points="205.2,189.2 214,184.4 214,159.9 205.2,164.6"/><polygon points="194.7,160.5 205.2,164.6 214,159.9 203.5,155.7"/><polygon points="207.8,190.2 218.3,194.4 218.3,187.7 207.8,183.5"/><polygon points="218.3,194.4 227.2,189.6 227.2,182.9 218.3,187.7"/><polygon points="207.8,183.5 218.3,187.7 227.2,182.9 216.7,178.8"/><polygon points="221,195.4 231.5,199.6 231.5,177.2 221,173.1"/><polygon points="231.5,199.6 240.3,194.8 240.3,172.5 231.5,177.2"/><polygon points="221,173.1 231.5,177.2 240.3,172.5 229.8,168.3"/><polygon points="234.1,200.6 244.6,204.8 244.6,176.5 234.1,172.4"/><polygon points="244.6,204.8 253.4,200 253.4,171.7 244.6,176.5"/><polygon points="234.1,172.4 244.6,176.5 253.4,171.7 242.9,167.6"/><polygon points="247.2,205.8 257.7,210 257.7,191 247.2,186.8"/><polygon points="257.7,210 266.6,205.2 266.6,186.2 257.7,191"/><polygon points="247.2,186.8 257.7,191 266.6,186.2 256.1,182"/></g>
<g class="b" fill="#ffcf00"><polygon points="65.5,144.2 76,148.3 76,144.2 65.5,140.1"/><polygon points="76,148.3 84.8,143.6 84.8,139.5 76,144.2"/><polygon points="65.5,140.1 76,144.2 84.8,139.5 74.3,135.3"/><polygon points="78.6,149.4 89.1,153.5 89.1,139.4 78.6,135.3"/><polygon points="89.1,153.5 98,148.8 98,134.6 89.1,139.4"/><polygon points="78.6,135.3 89.1,139.4 98,134.6 87.4,130.5"/><polygon points="91.7,154.6 102.2,158.7 102.2,154.6 91.7,150.5"/><polygon points="102.2,158.7 111.1,154 111.1,149.9 102.2,154.6"/><polygon points="91.7,150.5 102.2,154.6 111.1,149.9 100.6,145.7"/><polygon points="104.9,159.8 115.4,163.9 115.4,157.3 104.9,153.1"/><polygon points="115.4,163.9 124.2,159.2 124.2,152.5 115.4,157.3"/><polygon points="104.9,153.1 115.4,157.3 124.2,152.5 113.7,148.3"/><polygon points="118,165 128.5,169.1 128.5,41.4 118,37.2"/><polygon points="128.5,169.1 137.3,164.4 137.3,36.6 128.5,41.4"/><polygon points="118,37.2 128.5,41.4 137.3,36.6 126.8,32.4"/><polygon points="131.1,170.2 141.6,174.3 141.6,161.2 131.1,157.1"/><polygon points="141.6,174.3 150.5,169.6 150.5,156.5 141.6,161.2"/><polygon points="131.1,157.1 141.6,161.2 150.5,156.5 140,152.3"/><polygon points="144.3,175.4 154.8,179.5 154.8,166.4 144.3,162.3"/><polygon points="154.8,179.5 163.6,174.8 163.6,161.7 154.8,166.4"/><polygon points="144.3,162.3 154.8,166.4 163.6,161.7 153.1,157.5"/><polygon points="157.4,180.6 167.9,184.7 167.9,178.1 157.4,173.9"/><polygon points="167.9,184.7 176.7,180 176.7,173.3 167.9,178.1"/><polygon points="157.4,173.9 167.9,178.1 176.7,173.3 166.2,169.1"/><polygon points="170.5,185.8 181,189.9 181,176.8 170.5,172.7"/><polygon points="181,189.9 189.9,185.2 189.9,172.1 181,176.8"/><polygon points="170.5,172.7 181,176.8 189.9,172.1 179.4,167.9"/><polygon points="183.6,191 194.2,195.1 194.2,162.5 183.6,158.4"/><polygon points="194.2,195.1 203,190.4 203,157.8 194.2,162.5"/><polygon points="183.6,158.4 194.2,162.5 203,157.8 192.5,153.6"/><polygon points="196.8,196.2 207.3,200.3 207.3,189.8 196.8,185.7"/><polygon points="207.3,200.3 216.1,195.6 216.1,185 207.3,189.8"/><polygon points="196.8,185.7 207.3,189.8 216.1,185 205.6,180.9"/><polygon points="209.9,201.4 220.4,205.5 220.4,190.4 209.9,186.2"/><polygon points="220.4,205.5 229.3,200.8 229.3,185.6 220.4,190.4"/><polygon points="209.9,186.2 220.4,190.4 229.3,185.6 218.7,181.5"/><polygon points="223,206.6 233.5,210.7 233.5,197.6 223,193.5"/><polygon points="233.5,210.7 242.4,206 242.4,192.9 233.5,197.6"/><polygon points="223,193.5 233.5,197.6 242.4,192.9 231.9,188.7"/><polygon points="236.2,211.8 246.7,215.9 246.7,205.4 236.2,201.3"/><polygon points="246.7,215.9 255.5,211.2 255.5,200.6 246.7,205.4"/><polygon points="236.2,201.3 246.7,205.4 255.5,200.6 245,196.5"/></g>
<g class="b" fill="#00dfff"><polygon points="54.4,150.2 64.9,154.3 64.9,150.2 54.4,146"/><polygon points="64.9,154.3 73.8,149.5 73.8,145.4 64.9,150.2"/><polygon points="54.4,146 64.9,150.2 73.8,145.4 63.3,141.3"/><polygon points="67.6,155.3 78.1,159.5 78.1,136.7 67.6,132.5"/><polygon points="78.1,159.5 86.9,154.7 86.9,131.9 78.1,136.7"/><polygon points="67.6,132.5 78.1,136.7 86.9,131.9 76.4,127.7"/><polygon points="80.7,160.6 89.5,155.8 100,159.9 91.2,164.7"/><polygon points="93.8,165.8 104.3,169.9 104.3,163.2 93.8,159.1"/><polygon points="104.3,169.9 113.2,165.1 113.2,158.5 104.3,163.2"/><polygon points="93.8,159.1 104.3,163.2 113.2,158.5 102.7,154.3"/><polygon points="106.9,170.9 117.5,175.1 117.5,47.4 106.9,43.2"/><polygon points="117.5,175.1 126.3,170.3 126.3,42.6 117.5,47.4"/><polygon points="106.9,43.2 117.5,47.4 126.3,42.6 115.8,38.4"/><polygon points="120.1,176.2 130.6,180.3 130.6,160.8 120.1,156.6"/><polygon points="130.6,180.3 139.4,175.5 139.4,156 130.6,160.8"/><polygon points="120.1,156.6 130.6,160.8 139.4,156 128.9,151.9"/><polygon points="133.2,181.3 143.7,185.5 143.7,151.6 133.2,147.5"/><polygon points="143.7,185.5 152.6,180.7 152.6,146.8 143.7,151.6"/><polygon points="133.2,147.5 143.7,151.6 152.6,146.8 142,142.7"/><polygon points="146.3,186.5 156.8,190.7 156.8,186.6 146.3,182.4"/><polygon points="156.8,190.7 165.7,185.9 165.7,181.8 156.8,186.6"/><polygon points="146.3,182.4 156.8,186.6 165.7,181.8 155.2,177.7"/><polygon points="159.5,191.8 170,195.9 170,139.9 159.5,135.8"/><polygon points="170,195.9 178.8,191.1 178.8,135.2 170,139.9"/><polygon points="159.5,135.8 170,139.9 178.8,135.2 168.3,131"/><polygon points="172.6,197 183.1,201.1 183.1,144.9 172.6,140.7"/><polygon points="183.1,201.1 191.9,196.3 191.9,140.1 183.1,144.9"/><polygon points="172.6,140.7 183.1,144.9 191.9,140.1 181.4,135.9"/><polygon points="185.7,202.2 194.6,197.4 205.1,201.5 196.2,206.3"/><polygon points="198.9,207.3 209.4,211.5 209.4,176.6 198.9,172.4"/><polygon points="209.4,211.5 218.2,206.7 218.2,171.8 209.4,176.6"/><polygon points="198.9,172.4 209.4,176.6 218.2,171.8 207.7,167.6"/><polygon points="212,212.5 222.5,216.7 222.5,209.3 212,205.1"/><polygon points="222.5,216.7 231.3,211.9 231.3,204.5 222.5,209.3"/><polygon points="212,205.1 222.5,209.3 231.3,204.5 220.8,200.3"/><polygon points="225.1,217.8 235.6,221.9 235.6,215.9 225.1,211.7"/><polygon points="235.6,221.9 244.5,217.1 244.5,211.1 235.6,215.9"/><polygon points="225.1,211.7 235.6,215.9 244.5,211.1 234,206.9"/></g>
<g class="b" fill="#00008f"><polygon points="43.4,156.1 53.9,160.3 53.9,154.9 43.4,150.7"/><polygon points="53.9,160.3 62.7,155.5 62.7,150.1 53.9,154.9"/><polygon points="43.4,150.7 53.9,154.9 62.7,150.1 52.2,146"/><polygon points="56.5,161.3 67,165.5 67,143.4 56.5,139.2"/><polygon points="67,165.5 75.9,160.7 75.9,138.6 67,143.4"/><polygon points="56.5,139.2 67,143.4 75.9,138.6 65.3,134.5"/><polygon points="69.6,166.5 80.1,170.7 80.1,166.6 69.6,162.4"/><polygon points="80.1,170.7 89,165.9 89,161.8 80.1,166.6"/><polygon points="69.6,162.4 80.1,166.6 89,161.8 78.5,157.6"/><polygon points="82.8,171.7 93.3,175.9 93.3,165 82.8,160.8"/><polygon points="93.3,175.9 102.1,171.1 102.1,160.2 93.3,165"/><polygon points="82.8,160.8 93.3,165 102.1,160.2 91.6,156"/><polygon points="95.9,176.9 106.4,181.1 106.4,53.3 95.9,49.2"/><polygon points="106.4,181.1 115.2,176.3 115.2,48.5 106.4,53.3"/><polygon points="95.9,49.2 106.4,53.3 115.2,48.5 104.7,44.4"/><polygon points="109,182.1 119.5,186.3 119.5,159.4 109,155.3"/><polygon points="119.5,186.3 128.4,181.5 128.4,154.7 119.5,159.4"/><polygon points="109,155.3 119.5,159.4 128.4,154.7 117.9,150.5"/><polygon points="122.2,187.3 132.7,191.5 132.7,159.5 122.2,155.3"/><polygon points="132.7,191.5 141.5,186.7 141.5,154.7 132.7,159.5"/><polygon points="122.2,155.3 132.7,159.5 141.5,154.7 131,150.6"/><polygon points="135.3,192.5 145.8,196.7 145.8,192.2 135.3,188"/><polygon points="145.8,196.7 154.6,191.9 154.6,187.4 145.8,192.2"/><polygon points="135.3,188 145.8,192.2 154.6,187.4 144.1,183.2"/><polygon points="148.4,197.7 158.9,201.9 158.9,148.2 148.4,144"/><polygon points="158.9,201.9 167.8,197.1 167.8,143.4 158.9,148.2"/><polygon points="148.4,144 158.9,148.2 167.8,143.4 157.3,139.3"/><polygon points="161.5,202.9 172.1,207.1 172.1,150.8 161.5,146.7"/><polygon points="172.1,207.1 180.9,202.3 180.9,146.1 172.1,150.8"/><polygon points="161.5,146.7 172.1,150.8 180.9,146.1 170.4,141.9"/><polygon points="174.7,208.1 183.5,203.3 194,207.5 185.2,212.3"/><polygon points="187.8,213.3 198.3,217.5 198.3,180.1 187.8,176"/><polygon points="198.3,217.5 207.2,212.7 207.2,175.3 198.3,180.1"/><polygon points="187.8,176 198.3,180.1 207.2,175.3 196.6,171.2"/><polygon points="200.9,218.5 211.4,222.7 211.4,211.5 200.9,207.3"/><polygon points="211.4,222.7 220.3,217.9 220.3,206.7 211.4,211.5"/><polygon points="200.9,207.3 211.4,211.5 220.3,206.7 209.8,202.6"/><polygon points="214.1,223.7 224.6,227.9 224.6,219.7 214.1,215.5"/><polygon points="224.6,227.9 233.4,223.1 233.4,214.9 224.6,219.7"/><polygon points="214.1,215.5 224.6,219.7 233.4,214.9 222.9,210.7"/></g>
<text class="t" text-anchor="end" x="28.2" y="153.5">0</text><text class="t" text-anchor="end" x="28.2" y="127.8">0.2</text><text class="t" text-anchor="end" x="28.2" y="102.1">0.4</text><text class="t" text-anchor="end" x="28.2" y="76.5">0.6</text><text class="t" text-anchor="end" x="28.2" y="50.8">0.8</text><text class="t" text-anchor="end" x="28.2" y="25.1">1</text><text class="t" text-anchor="end" x="42.1" y="171">1</text><text class="t" text-anchor="end" x="55.3" y="176.2">2</text><text class="t" text-anchor="end" x="68.4" y="181.4">3</text><text class="t" text-anchor="end" x="81.5" y="186.6">4</text><text class="t" text-anchor="end" x="94.7" y="191.8">5</text><text class="t" text-anchor="end" x="107.8" y="197">6</text><text class="t" text-anchor="end" x="120.9" y="202.2">7</text><text class="t" text-anchor="end" x="134" y="207.4">8</text><text class="t" text-anchor="end" x="147.2" y="212.6">9</text><text class="t" text-anchor="end" x="160.3" y="217.8">10</text><text class="t" text-anchor="end" x="173.4" y="223">11</text><text class="t" text-anchor="end" x="186.6" y="228.2">12</text><text class="t" text-anchor="end" x="199.7" y="233.4">13</text><text class="t" text-anchor="end" x="212.8" y="238.6">14</text><text class="t" x="244.2" y="238.4">16</text><text class="t" x="255.2" y="232.4">11</text><text class="t" x="266.3" y="226.5">6</text><text class="t" x="277.3" y="220.5">1</text><text class="t v" text-anchor="middle" transform="translate(7.2,90.3) rotate(-90)">Normalized Similarity</text><text class="t" text-anchor="middle" x="114.8" y="239">Label of Motion</text><text class="t" text-anchor="middle" x="308.3" y="252.4">Dimensionality</text>
</g>
<g transform="translate(344.6,272.5)">
<path class="gr" d="M35.5 127.3L77.5 104.6M77.5 104.6L274.4 182.6M35.5 101.6L77.5 79M77.5 79L274.4 157M35.5 76L77.5 53.3M77.5 53.3L274.4 131.3M35.5 50.3L77.5 27.6M77.5 27.6L274.4 105.6M35.5 24.6L77.5 1.9M77.5 1.9L274.4 79.9M39.9 150.6L236.9 228.6M51 144.6L247.9 222.6M62 138.7L259 216.7M73.1 132.7L270 210.7M48.6 158.2L90.6 135.5M61.8 163.4L103.8 140.7M74.9 168.6L116.9 145.9M88 173.8L130 151.1M101.2 179L143.1 156.3M114.3 184.2L156.3 161.5M127.4 189.4L169.4 166.7M140.5 194.6L182.5 171.9M153.7 199.8L195.7 177.1M166.8 205L208.8 182.3M179.9 210.2L221.9 187.5M193.1 215.4L235.1 192.7M206.2 220.6L248.2 197.9M219.3 225.8L261.3 203.1"/>
<path class="gv" d="M39.9 22.2L39.9 150.6M51 16.2L51 144.6M62 10.3L62 138.7M73.1 4.3L73.1 132.7M90.6 7.1L90.6 135.5M103.8 12.3L103.8 140.7M116.9 17.5L116.9 145.9M130 22.7L130 151.1M143.1 27.9L143.1 156.3M156.3 33.1L156.3 161.5M169.4 38.3L169.4 166.7M182.5 43.5L182.5 171.9M195.7 48.7L195.7 177.1M208.8 53.9L208.8 182.3M221.9 59.1L221.9 187.5M235.1 64.3L235.1 192.7M248.2 69.5L248.2 197.9M261.3 74.7L261.3 203.1"/>
<path class="ax" d="M35.5 153L35.5 24.6M35.5 153L232.5 231M232.5 231L274.4 208.3M35.5 153L32.1 151.7M35.5 127.3L32.1 126M35.5 101.6L32.1 100.3M35.5 76L32.1 74.7M35.5 50.3L32.1 49M35.5 24.6L32.1 23.3M48.6 158.2L46 159.7M61.8 163.4L59.2 164.9M74.9 168.6L72.3 170.1M88 173.8L85.4 175.3M101.2 179L98.6 180.5M114.3 184.2L111.7 185.7M127.4 189.4L124.8 190.9M140.5 194.6L137.9 196.1M153.7 199.8L151.1 201.3M166.8 205L164.2 206.5M179.9 210.2L177.3 211.7M193.1 215.4L190.5 216.9M206.2 220.6L203.6 222.1M219.3 225.8L216.7 227.3M236.9 228.6L240.1 229.9M247.9 222.6L251.1 223.9M259 216.7L262.2 218M270 210.7L273.2 212"/>
<g class="b" fill="#800000"><polygon points="76.5,138.2 87,142.4 87,138.3 76.5,134.1"/><polygon points="87,142.4 95.9,137.6 95.9,133.5 87,138.3"/><polygon points="76.5,134.1 87,138.3 95.9,133.5 85.4,129.3"/><polygon points="89.7,143.4 100.2,147.6 100.2,142.2 89.7,138"/><polygon points="100.2,147.6 109,142.8 109,137.4 100.2,142.2"/><polygon points="89.7,138 100.2,142.2 109,137.4 98.5,133.2"/><polygon points="102.8,148.6 113.3,152.8 113.3,143.5 102.8,139.4"/><polygon points="113.3,152.8 122.1,148 122.1,138.7 113.3,143.5"/><polygon points="102.8,139.4 113.3,143.5 122.1,138.7 111.6,134.6"/><polygon points="115.9,153.8 126.4,158 126.4,151.3 115.9,147.1"/><polygon points="126.4,158 135.3,153.2 135.3,146.5 126.4,151.3"/><polygon points="115.9,147.1 126.4,151.3 135.3,146.5 124.8,142.4"/><polygon points="129,159 139.6,163.2 139.6,156.5 129,152.3"/><polygon points="139.6,163.2 148.4,158.4 148.4,151.7 139.6,156.5"/><polygon points="129,152.3 139.6,156.5 148.4,151.7 137.9,147.6"/><polygon points="142.2,164.2 152.7,168.4 152.7,161.7 142.2,157.5"/><polygon points="152.7,168.4 161.5,163.6 161.5,156.9 152.7,161.7"/><polygon points="142.2,157.5 152.7,161.7 161.5,156.9 151,152.8"/><polygon points="155.3,169.4 165.8,173.6 165.8,45.8 155.3,41.7"/><polygon points="165.8,173.6 174.7,168.8 174.7,41 165.8,45.8"/><polygon points="155.3,41.7 165.8,45.8 174.7,41 164.1,36.9"/><polygon points="168.4,174.6 178.9,178.8 178.9,165.7 168.4,161.5"/><polygon points="178.9,178.8 187.8,174 187.8,160.9 178.9,165.7"/><polygon points="168.4,161.5 178.9,165.7 187.8,160.9 177.3,156.7"/><polygon points="181.6,179.8 192.1,184 192.1,149 181.6,144.9"/><polygon points="192.1,184 200.9,179.2 200.9,144.3 192.1,149"/><polygon points="181.6,144.9 192.1,149 200.9,144.3 190.4,140.1"/><polygon points="194.7,185 205.2,189.2 205.2,166.8 194.7,162.7"/><polygon points="205.2,189.2 214,184.4 214,162.1 205.2,166.8"/><polygon points="194.7,162.7 205.2,166.8 214,162.1 203.5,157.9"/><polygon points="207.8,190.2 218.3,194.4 218.3,181.3 207.8,177.1"/><polygon points="218.3,194.4 227.2,189.6 227.2,176.5 218.3,181.3"/><polygon points="207.8,177.1 218.3,181.3 227.2,176.5 216.7,172.3"/><polygon points="221,195.4 231.5,199.6 231.5,170.7 221,166.5"/><polygon points="231.5,199.6 240.3,194.8 240.3,165.9 231.5,170.7"/><polygon points="221,166.5 231.5,170.7 240.3,165.9 229.8,161.7"/><polygon points="234.1,200.6 242.9,195.8 253.4,200 244.6,204.8"/><polygon points="247.2,205.8 256.1,201 266.6,205.2 257.7,210"/></g>
<g class="b" fill="#ffcf00"><polygon points="65.5,144.2 76,148.3 76,141.7 65.5,137.5"/><polygon points="76,148.3 84.8,143.6 84.8,136.9 76,141.7"/><polygon points="65.5,137.5 76,141.7 84.8,136.9 74.3,132.7"/><polygon points="78.6,149.4 89.1,153.5 89.1,117.3 78.6,113.2"/><polygon points="89.1,153.5 98,148.8 98,112.6 89.1,117.3"/><polygon points="78.6,113.2 89.1,117.3 98,112.6 87.4,108.4"/><polygon points="91.7,154.6 102.2,158.7 102.2,147.7 91.7,143.5"/><polygon points="102.2,158.7 111.1,154 111.1,142.9 102.2,147.7"/><polygon points="91.7,143.5 102.2,147.7 111.1,142.9 100.6,138.8"/><polygon points="104.9,159.8 115.4,163.9 115.4,143.1 104.9,139"/><polygon points="115.4,163.9 124.2,159.2 124.2,138.4 115.4,143.1"/><polygon points="104.9,139 115.4,143.1 124.2,138.4 113.7,134.2"/><polygon points="118,165 128.5,169.1 128.5,162.5 118,158.3"/><polygon points="128.5,169.1 137.3,164.4 137.3,157.7 128.5,162.5"/><polygon points="118,158.3 128.5,162.5 137.3,157.7 126.8,153.5"/><polygon points="131.1,170.2 141.6,174.3 141.6,167.7 131.1,163.5"/><polygon points="141.6,174.3 150.5,169.6 150.5,162.9 141.6,167.7"/><polygon points="131.1,163.5 141.6,167.7 150.5,162.9 140,158.7"/><polygon points="144.3,175.4 154.8,179.5 154.8,52 144.3,47.9"/><polygon points="154.8,179.5 163.6,174.8 163.6,47.3 154.8,52"/><polygon points="144.3,47.9 154.8,52 163.6,47.3 153.1,43.1"/><polygon points="157.4,180.6 167.9,184.7 167.9,170.1 157.4,165.9"/><polygon points="167.9,184.7 176.7,180 176.7,165.3 167.9,170.1"/><polygon points="157.4,165.9 167.9,170.1 176.7,165.3 166.2,161.2"/><polygon points="170.5,185.8 181,189.9 181,161.2 170.5,157"/><polygon points="181,189.9 189.9,185.2 189.9,156.4 181,161.2"/><polygon points="170.5,157 181,161.2 189.9,156.4 179.4,152.2"/><polygon points="183.6,191 194.2,195.1 194.2,159.7 183.6,155.5"/><polygon points="194.2,195.1 203,190.4 203,154.9 194.2,159.7"/><polygon points="183.6,155.5 194.2,159.7 203,154.9 192.5,150.8"/><polygon points="196.8,196.2 207.3,200.3 207.3,189.8 196.8,185.7"/><polygon points="207.3,200.3 216.1,195.6 216.1,185 207.3,189.8"/><polygon points="196.8,185.7 207.3,189.8 216.1,185 205.6,180.9"/><polygon points="209.9,201.4 220.4,205.5 220.4,171.3 209.9,167.1"/><polygon points="220.4,205.5 229.3,200.8 229.3,166.5 220.4,171.3"/><polygon points="209.9,167.1 220.4,171.3 229.3,166.5 218.7,162.3"/><polygon points="223,206.6 233.5,210.7 233.5,202.8 223,198.6"/><polygon points="233.5,210.7 242.4,206 242.4,198 233.5,202.8"/><polygon points="223,198.6 233.5,202.8 242.4,198 231.9,193.8"/><polygon points="236.2,211.8 245,207 255.5,211.2 246.7,215.9"/></g>
<g class="b" fill="#00dfff"><polygon points="54.4,150.2 64.9,154.3 64.9,147.6 54.4,143.5"/><polygon points="64.9,154.3 73.8,149.5 73.8,142.9 64.9,147.6"/><polygon points="54.4,143.5 64.9,147.6 73.8,142.9 63.3,138.7"/><polygon points="67.6,155.3 78.1,159.5 78.1,129.8 67.6,125.7"/><polygon points="78.1,159.5 86.9,154.7 86.9,125.1 78.1,129.8"/><polygon points="67.6,125.7 78.1,129.8 86.9,125.1 76.4,120.9"/><polygon points="80.7,160.6 91.2,164.7 91.2,162.5 80.7,158.4"/><polygon points="91.2,164.7 100,159.9 100,157.8 91.2,162.5"/><polygon points="80.7,158.4 91.2,162.5 100,157.8 89.5,153.6"/><polygon points="93.8,165.8 104.3,169.9 104.3,163.2 93.8,159.1"/><polygon points="104.3,169.9 113.2,165.1 113.2,158.5 104.3,163.2"/><polygon points="93.8,159.1 104.3,163.2 113.2,158.5 102.7,154.3"/><polygon points="106.9,170.9 117.5,175.1 117.5,151.7 106.9,147.6"/><polygon points="117.5,175.1 126.3,170.3 126.3,147 117.5,151.7"/><polygon points="106.9,147.6 117.5,151.7 126.3,147 115.8,142.8"/><polygon points="120.1,176.2 130.6,180.3 130.6,173.6 120.1,169.5"/><polygon points="130.6,180.3 139.4,175.5 139.4,168.9 130.6,173.6"/><polygon points="120.1,169.5 130.6,173.6 139.4,168.9 128.9,164.7"/><polygon points="133.2,181.3 143.7,185.5 143.7,58 133.2,53.8"/><polygon points="143.7,185.5 152.6,180.7 152.6,53.2 143.7,58"/><polygon points="133.2,53.8 143.7,58 152.6,53.2 142,49.1"/><polygon points="146.3,186.5 155.2,181.8 165.7,185.9 156.8,190.7"/><polygon points="159.5,191.8 170,195.9 170,174.9 159.5,170.7"/><polygon points="170,195.9 178.8,191.1 178.8,170.1 170,174.9"/><polygon points="159.5,170.7 170,174.9 178.8,170.1 168.3,165.9"/><polygon points="172.6,197 183.1,201.1 183.1,176.5 172.6,172.3"/><polygon points="183.1,201.1 191.9,196.3 191.9,171.7 183.1,176.5"/><polygon points="172.6,172.3 183.1,176.5 191.9,171.7 181.4,167.5"/><polygon points="185.7,202.2 196.2,206.3 196.2,195.8 185.7,191.6"/><polygon points="196.2,206.3 205.1,201.5 205.1,191 196.2,195.8"/><polygon points="185.7,191.6 196.2,195.8 205.1,191 194.6,186.8"/><polygon points="198.9,207.3 209.4,211.5 209.4,173.5 198.9,169.3"/><polygon points="209.4,211.5 218.2,206.7 218.2,168.7 209.4,173.5"/><polygon points="198.9,169.3 209.4,173.5 218.2,168.7 207.7,164.6"/><polygon points="212,212.5 222.5,216.7 222.5,203.6 212,199.5"/><polygon points="222.5,216.7 231.3,211.9 231.3,198.8 222.5,203.6"/><polygon points="212,199.5 222.5,203.6 231.3,198.8 220.8,194.7"/><polygon points="225.1,217.8 234,213 244.5,217.1 235.6,221.9"/></g>
<g class="b" fill="#00008f"><polygon points="43.4,156.1 53.9,160.3 53.9,152.3 43.4,148.2"/><polygon points="53.9,160.3 62.7,155.5 62.7,147.5 53.9,152.3"/><polygon points="43.4,148.2 53.9,152.3 62.7,147.5 52.2,143.4"/><polygon points="56.5,161.3 67,165.5 67,136.1 56.5,131.9"/><polygon points="67,165.5 75.9,160.7 75.9,131.3 67,136.1"/><polygon points="56.5,131.9 67,136.1 75.9,131.3 65.3,127.1"/><polygon points="69.6,166.5 80.1,170.7 80.1,163 69.6,158.8"/><polygon points="80.1,170.7 89,165.9 89,158.2 80.1,163"/><polygon points="69.6,158.8 80.1,163 89,158.2 78.5,154"/><polygon points="82.8,171.7 93.3,175.9 93.3,167.7 82.8,163.5"/><polygon points="93.3,175.9 102.1,171.1 102.1,162.9 93.3,167.7"/><polygon points="82.8,163.5 93.3,167.7 102.1,162.9 91.6,158.7"/><polygon points="95.9,176.9 106.4,181.1 106.4,165.4 95.9,161.3"/><polygon points="106.4,181.1 115.2,176.3 115.2,160.6 106.4,165.4"/><polygon points="95.9,161.3 106.4,165.4 115.2,160.6 104.7,156.5"/><polygon points="109,182.1 119.5,186.3 119.5,180.4 109,176.2"/><polygon points="119.5,186.3 128.4,181.5 128.4,175.6 119.5,180.4"/><polygon points="109,176.2 119.5,180.4 128.4,175.6 117.9,171.4"/><polygon points="122.2,187.3 132.7,191.5 132.7,64 122.2,59.8"/><polygon points="132.7,191.5 141.5,186.7 141.5,59.2 132.7,64"/><polygon points="122.2,59.8 132.7,64 141.5,59.2 131,55"/><polygon points="135.3,192.5 144.1,187.7 154.6,191.9 145.8,196.7"/><polygon points="148.4,197.7 158.9,201.9 158.9,187.8 148.4,183.6"/><polygon points="158.9,201.9 167.8,197.1 167.8,183 158.9,187.8"/><polygon points="148.4,183.6 158.9,187.8 167.8,183 157.3,178.8"/><polygon points="161.5,202.9 172.1,207.1 172.1,187.3 161.5,183.1"/><polygon points="172.1,207.1 180.9,202.3 180.9,182.5 172.1,187.3"/><polygon points="161.5,183.1 172.1,187.3 180.9,182.5 170.4,178.4"/><polygon points="174.7,208.1 185.2,212.3 185.2,206.9 174.7,202.7"/><polygon points="185.2,212.3 194,207.5 194,202.1 185.2,206.9"/><polygon points="174.7,202.7 185.2,206.9 194,202.1 183.5,198"/><polygon points="187.8,213.3 198.3,217.5 198.3,171.5 187.8,167.4"/><polygon points="198.3,217.5 207.2,212.7 207.2,166.7 198.3,171.5"/><polygon points="187.8,167.4 198.3,171.5 207.2,166.7 196.6,162.6"/><polygon points="200.9,218.5 211.4,222.7 211.4,205.7 200.9,201.6"/><polygon points="211.4,222.7 220.3,217.9 220.3,201 211.4,205.7"/><polygon points="200.9,201.6 211.4,205.7 220.3,201 209.8,196.8"/><polygon points="214.1,223.7 224.6,227.9 224.6,223.4 214.1,219.2"/><polygon points="224.6,227.9 233.4,223.1 233.4,218.6 224.6,223.4"/><polygon points="214.1,219.2 224.6,223.4 233.4,218.6 222.9,214.4"/></g>
<text class="t" text-anchor="end" x="28.2" y="153.5">0</text><text class="t" text-anchor="end" x="28.2" y="127.8">0.2</text><text class="t" text-anchor="end" x="28.2" y="102.1">0.4</text><text class="t" text-anchor="end" x="28.2" y="76.5">0.6</text><text class="t" text-anchor="end" x="28.2" y="50.8">0.8</text><text class="t" text-anchor="end" x="28.2" y="25.1">1</text><text class="t" text-anchor="end" x="42.1" y="171">1</text><text class="t" text-anchor="end" x="55.3" y="176.2">2</text><text class="t" text-anchor="end" x="68.4" y="181.4">3</text><text class="t" text-anchor="end" x="81.5" y="186.6">4</text><text class="t" text-anchor="end" x="94.7" y="191.8">5</text><text class="t" text-anchor="end" x="107.8" y="197">6</text><text class="t" text-anchor="end" x="120.9" y="202.2">7</text><text class="t" text-anchor="end" x="134" y="207.4">8</text><text class="t" text-anchor="end" x="147.2" y="212.6">9</text><text class="t" text-anchor="end" x="160.3" y="217.8">10</text><text class="t" text-anchor="end" x="173.4" y="223">11</text><text class="t" text-anchor="end" x="186.6" y="228.2">12</text><text class="t" text-anchor="end" x="199.7" y="233.4">13</text><text class="t" text-anchor="end" x="212.8" y="238.6">14</text><text class="t" x="244.2" y="238.4">16</text><text class="t" x="255.2" y="232.4">11</text><text class="t" x="266.3" y="226.5">6</text><text class="t" x="277.3" y="220.5">1</text><text class="t v" text-anchor="middle" transform="translate(7.2,90.3) rotate(-90)">Normalized Similarity</text><text class="t" text-anchor="middle" x="114.8" y="239">Label of Motion</text><text class="t" text-anchor="middle" x="308.3" y="252.4">Dimensionality</text>
</g>
<g transform="translate(-0.4,549.5)">
<path class="gr" d="M35.5 127.3L77.5 104.6M77.5 104.6L274.4 182.6M35.5 101.6L77.5 79M77.5 79L274.4 157M35.5 76L77.5 53.3M77.5 53.3L274.4 131.3M35.5 50.3L77.5 27.6M77.5 27.6L274.4 105.6M35.5 24.6L77.5 1.9M77.5 1.9L274.4 79.9M39.9 150.6L236.9 228.6M51 144.6L247.9 222.6M62 138.7L259 216.7M73.1 132.7L270 210.7M48.6 158.2L90.6 135.5M61.8 163.4L103.8 140.7M74.9 168.6L116.9 145.9M88 173.8L130 151.1M101.2 179L143.1 156.3M114.3 184.2L156.3 161.5M127.4 189.4L169.4 166.7M140.5 194.6L182.5 171.9M153.7 199.8L195.7 177.1M166.8 205L208.8 182.3M179.9 210.2L221.9 187.5M193.1 215.4L235.1 192.7M206.2 220.6L248.2 197.9M219.3 225.8L261.3 203.1"/>
<path class="gv" d="M39.9 22.2L39.9 150.6M51 16.2L51 144.6M62 10.3L62 138.7M73.1 4.3L73.1 132.7M90.6 7.1L90.6 135.5M103.8 12.3L103.8 140.7M116.9 17.5L116.9 145.9M130 22.7L130 151.1M143.1 27.9L143.1 156.3M156.3 33.1L156.3 161.5M169.4 38.3L169.4 166.7M182.5 43.5L182.5 171.9M195.7 48.7L195.7 177.1M208.8 53.9L208.8 182.3M221.9 59.1L221.9 187.5M235.1 64.3L235.1 192.7M248.2 69.5L248.2 197.9M261.3 74.7L261.3 203.1"/>
<path class="ax" d="M35.5 153L35.5 24.6M35.5 153L232.5 231M232.5 231L274.4 208.3M35.5 153L32.1 151.7M35.5 127.3L32.1 126M35.5 101.6L32.1 100.3M35.5 76L32.1 74.7M35.5 50.3L32.1 49M35.5 24.6L32.1 23.3M48.6 158.2L46 159.7M61.8 163.4L59.2 164.9M74.9 168.6L72.3 170.1M88 173.8L85.4 175.3M101.2 179L98.6 180.5M114.3 184.2L111.7 185.7M127.4 189.4L124.8 190.9M140.5 194.6L137.9 196.1M153.7 199.8L151.1 201.3M166.8 205L164.2 206.5M179.9 210.2L177.3 211.7M193.1 215.4L190.5 216.9M206.2 220.6L203.6 222.1M219.3 225.8L216.7 227.3M236.9 228.6L240.1 229.9M247.9 222.6L251.1 223.9M259 216.7L262.2 218M270 210.7L273.2 212"/>
<g class="b" fill="#800000"><polygon points="76.5,138.2 87,142.4 87,124.9 76.5,120.7"/><polygon points="87,142.4 95.9,137.6 95.9,120.1 87,124.9"/><polygon points="76.5,120.7 87,124.9 95.9,120.1 85.4,116"/><polygon points="89.7,143.4 100.2,147.6 100.2,125 89.7,120.8"/><polygon points="100.2,147.6 109,142.8 109,120.2 100.2,125"/><polygon points="89.7,120.8 100.2,125 109,120.2 98.5,116"/><polygon points="102.8,148.6 113.3,152.8 113.3,121.3 102.8,117.2"/><polygon points="113.3,152.8 122.1,148 122.1,116.5 113.3,121.3"/><polygon points="102.8,117.2 113.3,121.3 122.1,116.5 111.6,112.4"/><polygon points="115.9,153.8 126.4,158 126.4,135.4 115.9,131.2"/><polygon points="126.4,158 135.3,153.2 135.3,130.6 126.4,135.4"/><polygon points="115.9,131.2 126.4,135.4 135.3,130.6 124.8,126.4"/><polygon points="129,159 139.6,163.2 139.6,122.6 129,118.4"/><polygon points="139.6,163.2 148.4,158.4 148.4,117.8 139.6,122.6"/><polygon points="129,118.4 139.6,122.6 148.4,117.8 137.9,113.7"/><polygon points="142.2,164.2 152.7,168.4 152.7,150.9 142.2,146.7"/><polygon points="152.7,168.4 161.5,163.6 161.5,146.1 152.7,150.9"/><polygon points="142.2,146.7 152.7,150.9 161.5,146.1 151,142"/><polygon points="155.3,169.4 165.8,173.6 165.8,156.1 155.3,151.9"/><polygon points="165.8,173.6 174.7,168.8 174.7,151.3 165.8,156.1"/><polygon points="155.3,151.9 165.8,156.1 174.7,151.3 164.1,147.2"/><polygon points="168.4,174.6 178.9,178.8 178.9,161.3 168.4,157.1"/><polygon points="178.9,178.8 187.8,174 187.8,156.5 178.9,161.3"/><polygon points="168.4,157.1 178.9,161.3 187.8,156.5 177.3,152.4"/><polygon points="181.6,179.8 192.1,184 192.1,55.7 181.6,51.5"/><polygon points="192.1,184 200.9,179.2 200.9,50.9 192.1,55.7"/><polygon points="181.6,51.5 192.1,55.7 200.9,50.9 190.4,46.8"/><polygon points="194.7,185 205.2,189.2 205.2,129.6 194.7,125.4"/><polygon points="205.2,189.2 214,184.4 214,124.8 205.2,129.6"/><polygon points="194.7,125.4 205.2,129.6 214,124.8 203.5,120.7"/><polygon points="207.8,190.2 218.3,194.4 218.3,151.9 207.8,147.7"/><polygon points="218.3,194.4 227.2,189.6 227.2,147.1 218.3,151.9"/><polygon points="207.8,147.7 218.3,151.9 227.2,147.1 216.7,142.9"/><polygon points="221,195.4 231.5,199.6 231.5,158.2 221,154.1"/><polygon points="231.5,199.6 240.3,194.8 240.3,153.4 231.5,158.2"/><polygon points="221,154.1 231.5,158.2 240.3,153.4 229.8,149.3"/><polygon points="234.1,200.6 244.6,204.8 244.6,196.7 234.1,192.5"/><polygon points="244.6,204.8 253.4,200 253.4,191.9 244.6,196.7"/><polygon points="234.1,192.5 244.6,196.7 253.4,191.9 242.9,187.7"/><polygon points="247.2,205.8 256.1,201 266.6,205.2 257.7,210"/></g>
<g class="b" fill="#ffcf00"><polygon points="65.5,144.2 76,148.3 76,128.3 65.5,124.1"/><polygon points="76,148.3 84.8,143.6 84.8,123.5 76,128.3"/><polygon points="65.5,124.1 76,128.3 84.8,123.5 74.3,119.4"/><polygon points="78.6,149.4 89.1,153.5 89.1,115.5 78.6,111.4"/><polygon points="89.1,153.5 98,148.8 98,110.8 89.1,115.5"/><polygon points="78.6,111.4 89.1,115.5 98,110.8 87.4,106.6"/><polygon points="91.7,154.6 102.2,158.7 102.2,132 91.7,127.9"/><polygon points="102.2,158.7 111.1,154 111.1,127.3 102.2,132"/><polygon points="91.7,127.9 102.2,132 111.1,127.3 100.6,123.1"/><polygon points="104.9,159.8 115.4,163.9 115.4,129.5 104.9,125.4"/><polygon points="115.4,163.9 124.2,159.2 124.2,124.8 115.4,129.5"/><polygon points="104.9,125.4 115.4,129.5 124.2,124.8 113.7,120.6"/><polygon points="118,165 128.5,169.1 128.5,158.1 118,153.9"/><polygon points="128.5,169.1 137.3,164.4 137.3,153.3 128.5,158.1"/><polygon points="118,153.9 128.5,158.1 137.3,153.3 126.8,149.2"/><polygon points="131.1,170.2 141.6,174.3 141.6,154.1 131.1,149.9"/><polygon points="141.6,174.3 150.5,169.6 150.5,149.3 141.6,154.1"/><polygon points="131.1,149.9 141.6,154.1 150.5,149.3 140,145.1"/><polygon points="144.3,175.4 154.8,179.5 154.8,163.4 144.3,159.2"/><polygon points="154.8,179.5 163.6,174.8 163.6,158.6 154.8,163.4"/><polygon points="144.3,159.2 154.8,163.4 163.6,158.6 153.1,154.4"/><polygon points="157.4,180.6 167.9,184.7 167.9,173.7 157.4,169.5"/><polygon points="167.9,184.7 176.7,180 176.7,168.9 167.9,173.7"/><polygon points="157.4,169.5 167.9,173.7 176.7,168.9 166.2,164.8"/><polygon points="170.5,185.8 181,189.9 181,61.8 170.5,57.6"/><polygon points="181,189.9 189.9,185.2 189.9,57 181,61.8"/><polygon points="170.5,57.6 181,61.8 189.9,57 179.4,52.9"/><polygon points="183.6,191 194.2,195.1 194.2,149.3 183.6,145.1"/><polygon points="194.2,195.1 203,190.4 203,144.5 194.2,149.3"/><polygon points="183.6,145.1 194.2,149.3 203,144.5 192.5,140.4"/><polygon points="196.8,196.2 207.3,200.3 207.3,188 196.8,183.9"/><polygon points="207.3,200.3 216.1,195.6 216.1,183.2 207.3,188"/><polygon points="196.8,183.9 207.3,188 216.1,183.2 205.6,179.1"/><polygon points="209.9,201.4 220.4,205.5 220.4,186.8 209.9,182.6"/><polygon points="220.4,205.5 229.3,200.8 229.3,182 220.4,186.8"/><polygon points="209.9,182.6 220.4,186.8 229.3,182 218.7,177.9"/><polygon points="223,206.6 231.9,201.8 242.4,206 233.5,210.7"/><polygon points="236.2,211.8 246.7,215.9 246.7,213.4 236.2,209.2"/><polygon points="246.7,215.9 255.5,211.2 255.5,208.6 246.7,213.4"/><polygon points="236.2,209.2 246.7,213.4 255.5,208.6 245,204.4"/></g>
<g class="b" fill="#00dfff"><polygon points="54.4,150.2 64.9,154.3 64.9,134.3 54.4,130.1"/><polygon points="64.9,154.3 73.8,149.5 73.8,129.5 64.9,134.3"/><polygon points="54.4,130.1 64.9,134.3 73.8,129.5 63.3,125.3"/><polygon points="67.6,155.3 78.1,159.5 78.1,121.8 67.6,117.6"/><polygon points="78.1,159.5 86.9,154.7 86.9,117 78.1,121.8"/><polygon points="67.6,117.6 78.1,121.8 86.9,117 76.4,112.8"/><polygon points="80.7,160.6 91.2,164.7 91.2,140.8 80.7,136.7"/><polygon points="91.2,164.7 100,159.9 100,136.1 91.2,140.8"/><polygon points="80.7,136.7 91.2,140.8 100,136.1 89.5,131.9"/><polygon points="93.8,165.8 104.3,169.9 104.3,134.3 93.8,130.2"/><polygon points="104.3,169.9 113.2,165.1 113.2,129.6 104.3,134.3"/><polygon points="93.8,130.2 104.3,134.3 113.2,129.6 102.7,125.4"/><polygon points="106.9,170.9 117.5,175.1 117.5,164.1 106.9,159.9"/><polygon points="117.5,175.1 126.3,170.3 126.3,159.3 117.5,164.1"/><polygon points="106.9,159.9 117.5,164.1 126.3,159.3 115.8,155.1"/><polygon points="120.1,176.2 130.6,180.3 130.6,154.1 120.1,150"/><polygon points="130.6,180.3 139.4,175.5 139.4,149.3 130.6,154.1"/><polygon points="120.1,150 130.6,154.1 139.4,149.3 128.9,145.2"/><polygon points="133.2,181.3 143.7,185.5 143.7,176 133.2,171.8"/><polygon points="143.7,185.5 152.6,180.7 152.6,171.2 143.7,176"/><polygon points="133.2,171.8 143.7,176 152.6,171.2 142,167.1"/><polygon points="146.3,186.5 156.8,190.7 156.8,182.2 146.3,178.1"/><polygon points="156.8,190.7 165.7,185.9 165.7,177.5 156.8,182.2"/><polygon points="146.3,178.1 156.8,182.2 165.7,177.5 155.2,173.3"/><polygon points="159.5,191.8 170,195.9 170,67.8 159.5,63.6"/><polygon points="170,195.9 178.8,191.1 178.8,63 170,67.8"/><polygon points="159.5,63.6 170,67.8 178.8,63 168.3,58.8"/><polygon points="172.6,197 183.1,201.1 183.1,140.1 172.6,136"/><polygon points="183.1,201.1 191.9,196.3 191.9,135.3 183.1,140.1"/><polygon points="172.6,136 183.1,140.1 191.9,135.3 181.4,131.2"/><polygon points="185.7,202.2 196.2,206.3 196.2,196.6 185.7,192.4"/><polygon points="196.2,206.3 205.1,201.5 205.1,191.8 196.2,196.6"/><polygon points="185.7,192.4 196.2,196.6 205.1,191.8 194.6,187.6"/><polygon points="198.9,207.3 209.4,211.5 209.4,194 198.9,189.9"/><polygon points="209.4,211.5 218.2,206.7 218.2,189.3 209.4,194"/><polygon points="198.9,189.9 209.4,194 218.2,189.3 207.7,185.1"/><polygon points="212,212.5 220.8,207.8 231.3,211.9 222.5,216.7"/><polygon points="225.1,217.8 234,213 244.5,217.1 235.6,221.9"/></g>
<g class="b" fill="#00008f"><polygon points="43.4,156.1 53.9,160.3 53.9,135.8 43.4,131.6"/><polygon points="53.9,160.3 62.7,155.5 62.7,131 53.9,135.8"/><polygon points="43.4,131.6 53.9,135.8 62.7,131 52.2,126.8"/><polygon points="56.5,161.3 67,165.5 67,126.8 56.5,122.7"/><polygon points="67,165.5 75.9,160.7 75.9,122.1 67,126.8"/><polygon points="56.5,122.7 67,126.8 75.9,122.1 65.3,117.9"/><polygon points="69.6,166.5 80.1,170.7 80.1,143.6 69.6,139.4"/><polygon points="80.1,170.7 89,165.9 89,138.8 80.1,143.6"/><polygon points="69.6,139.4 80.1,143.6 89,138.8 78.5,134.7"/><polygon points="82.8,171.7 93.3,175.9 93.3,139.3 82.8,135.1"/><polygon points="93.3,175.9 102.1,171.1 102.1,134.5 93.3,139.3"/><polygon points="82.8,135.1 93.3,139.3 102.1,134.5 91.6,130.3"/><polygon points="95.9,176.9 106.4,181.1 106.4,169 95.9,164.9"/><polygon points="106.4,181.1 115.2,176.3 115.2,164.2 106.4,169"/><polygon points="95.9,164.9 106.4,169 115.2,164.2 104.7,160.1"/><polygon points="109,182.1 119.5,186.3 119.5,159.1 109,154.9"/><polygon points="119.5,186.3 128.4,181.5 128.4,154.3 119.5,159.1"/><polygon points="109,154.9 119.5,159.1 128.4,154.3 117.9,150.1"/><polygon points="122.2,187.3 132.7,191.5 132.7,183 122.2,178.8"/><polygon points="132.7,191.5 141.5,186.7 141.5,178.2 132.7,183"/><polygon points="122.2,178.8 132.7,183 141.5,178.2 131,174.1"/><polygon points="135.3,192.5 145.8,196.7 145.8,189.5 135.3,185.3"/><polygon points="145.8,196.7 154.6,191.9 154.6,184.7 145.8,189.5"/><polygon points="135.3,185.3 145.8,189.5 154.6,184.7 144.1,180.6"/><polygon points="148.4,197.7 158.9,201.9 158.9,73.4 148.4,69.2"/><polygon points="158.9,201.9 167.8,197.1 167.8,68.6 158.9,73.4"/><polygon points="148.4,69.2 158.9,73.4 167.8,68.6 157.3,64.4"/><polygon points="161.5,202.9 172.1,207.1 172.1,151.5 161.5,147.3"/><polygon points="172.1,207.1 180.9,202.3 180.9,146.7 172.1,151.5"/><polygon points="161.5,147.3 172.1,151.5 180.9,146.7 170.4,142.5"/><polygon points="174.7,208.1 185.2,212.3 185.2,202.5 174.7,198.4"/><polygon points="185.2,212.3 194,207.5 194,197.7 185.2,202.5"/><polygon points="174.7,198.4 185.2,202.5 194,197.7 183.5,193.6"/><polygon points="187.8,213.3 198.3,217.5 198.3,198.3 187.8,194.2"/><polygon points="198.3,217.5 207.2,212.7 207.2,193.6 198.3,198.3"/><polygon points="187.8,194.2 198.3,198.3 207.2,193.6 196.6,189.4"/><polygon points="200.9,218.5 209.8,213.7 220.3,217.9 211.4,222.7"/><polygon points="214.1,223.7 224.6,227.9 224.6,222.7 214.1,218.6"/><polygon points="224.6,227.9 233.4,223.1 233.4,218 224.6,222.7"/><polygon points="214.1,218.6 224.6,222.7 233.4,218 222.9,213.8"/></g>
<text class="t" text-anchor="end" x="28.2" y="153.5">0</text><text class="t" text-anchor="end" x="28.2" y="127.8">0.2</text><text class="t" text-anchor="end" x="28.2" y="102.1">0.4</text><text class="t" text-anchor="end" x="28.2" y="76.5">0.6</text><text class="t" text-anchor="end" x="28.2" y="50.8">0.8</text><text class="t" text-anchor="end" x="28.2" y="25.1">1</text><text class="t" text-anchor="end" x="42.1" y="171">1</text><text class="t" text-anchor="end" x="55.3" y="176.2">2</text><text class="t" text-anchor="end" x="68.4" y="181.4">3</text><text class="t" text-anchor="end" x="81.5" y="186.6">4</text><text class="t" text-anchor="end" x="94.7" y="191.8">5</text><text class="t" text-anchor="end" x="107.8" y="197">6</text><text class="t" text-anchor="end" x="120.9" y="202.2">7</text><text class="t" text-anchor="end" x="134" y="207.4">8</text><text class="t" text-anchor="end" x="147.2" y="212.6">9</text><text class="t" text-anchor="end" x="160.3" y="217.8">10</text><text class="t" text-anchor="end" x="173.4" y="223">11</text><text class="t" text-anchor="end" x="186.6" y="228.2">12</text><text class="t" text-anchor="end" x="199.7" y="233.4">13</text><text class="t" text-anchor="end" x="212.8" y="238.6">14</text><text class="t" x="244.2" y="238.4">16</text><text class="t" x="255.2" y="232.4">11</text><text class="t" x="266.3" y="226.5">6</text><text class="t" x="277.3" y="220.5">1</text><text class="t v" text-anchor="middle" transform="translate(7.2,90.3) rotate(-90)">Normalized Similarity</text><text class="t" text-anchor="middle" x="114.8" y="239">Label of Motion</text><text class="t" text-anchor="middle" x="308.3" y="252.4">Dimensionality</text>
</g>
<g transform="translate(344.6,549.5)">
<path class="gr" d="M35.5 127.3L77.5 104.6M77.5 104.6L274.4 182.6M35.5 101.6L77.5 79M77.5 79L274.4 157M35.5 76L77.5 53.3M77.5 53.3L274.4 131.3M35.5 50.3L77.5 27.6M77.5 27.6L274.4 105.6M35.5 24.6L77.5 1.9M77.5 1.9L274.4 79.9M39.9 150.6L236.9 228.6M51 144.6L247.9 222.6M62 138.7L259 216.7M73.1 132.7L270 210.7M48.6 158.2L90.6 135.5M61.8 163.4L103.8 140.7M74.9 168.6L116.9 145.9M88 173.8L130 151.1M101.2 179L143.1 156.3M114.3 184.2L156.3 161.5M127.4 189.4L169.4 166.7M140.5 194.6L182.5 171.9M153.7 199.8L195.7 177.1M166.8 205L208.8 182.3M179.9 210.2L221.9 187.5M193.1 215.4L235.1 192.7M206.2 220.6L248.2 197.9M219.3 225.8L261.3 203.1"/>
<path class="gv" d="M39.9 22.2L39.9 150.6M51 16.2L51 144.6M62 10.3L62 138.7M73.1 4.3L73.1 132.7M90.6 7.1L90.6 135.5M103.8 12.3L103.8 140.7M116.9 17.5L116.9 145.9M130 22.7L130 151.1M143.1 27.9L143.1 156.3M156.3 33.1L156.3 161.5M169.4 38.3L169.4 166.7M182.5 43.5L182.5 171.9M195.7 48.7L195.7 177.1M208.8 53.9L208.8 182.3M221.9 59.1L221.9 187.5M235.1 64.3L235.1 192.7M248.2 69.5L248.2 197.9M261.3 74.7L261.3 203.1"/>
<path class="ax" d="M35.5 153L35.5 24.6M35.5 153L232.5 231M232.5 231L274.4 208.3M35.5 153L32.1 151.7M35.5 127.3L32.1 126M35.5 101.6L32.1 100.3M35.5 76L32.1 74.7M35.5 50.3L32.1 49M35.5 24.6L32.1 23.3M48.6 158.2L46 159.7M61.8 163.4L59.2 164.9M74.9 168.6L72.3 170.1M88 173.8L85.4 175.3M101.2 179L98.6 180.5M114.3 184.2L111.7 185.7M127.4 189.4L124.8 190.9M140.5 194.6L137.9 196.1M153.7 199.8L151.1 201.3M166.8 205L164.2 206.5M179.9 210.2L177.3 211.7M193.1 215.4L190.5 216.9M206.2 220.6L203.6 222.1M219.3 225.8L216.7 227.3M236.9 228.6L240.1 229.9M247.9 222.6L251.1 223.9M259 216.7L262.2 218M270 210.7L273.2 212"/>
<g class="b" fill="#800000"><polygon points="76.5,138.2 87,142.4 87,119.5 76.5,115.4"/><polygon points="87,142.4 95.9,137.6 95.9,114.7 87,119.5"/><polygon points="76.5,115.4 87,119.5 95.9,114.7 85.4,110.6"/><polygon points="89.7,143.4 100.2,147.6 100.2,143.1 89.7,138.9"/><polygon points="100.2,147.6 109,142.8 109,138.3 100.2,143.1"/><polygon points="89.7,138.9 100.2,143.1 109,138.3 98.5,134.1"/><polygon points="102.8,148.6 113.3,152.8 113.3,114.2 102.8,110.1"/><polygon points="113.3,152.8 122.1,148 122.1,109.5 113.3,114.2"/><polygon points="102.8,110.1 113.3,114.2 122.1,109.5 111.6,105.3"/><polygon points="115.9,153.8 126.4,158 126.4,147.7 115.9,143.5"/><polygon points="126.4,158 135.3,153.2 135.3,142.9 126.4,147.7"/><polygon points="115.9,143.5 126.4,147.7 135.3,142.9 124.8,138.8"/><polygon points="129,159 139.6,163.2 139.6,92.4 129,88.3"/><polygon points="139.6,163.2 148.4,158.4 148.4,87.6 139.6,92.4"/><polygon points="129,88.3 139.6,92.4 148.4,87.6 137.9,83.5"/><polygon points="142.2,164.2 152.7,168.4 152.7,116 142.2,111.8"/><polygon points="152.7,168.4 161.5,163.6 161.5,111.2 152.7,116"/><polygon points="142.2,111.8 152.7,116 161.5,111.2 151,107"/><polygon points="155.3,169.4 165.8,173.6 165.8,149.8 155.3,145.7"/><polygon points="165.8,173.6 174.7,168.8 174.7,145 165.8,149.8"/><polygon points="155.3,145.7 165.8,149.8 174.7,145 164.1,140.9"/><polygon points="168.4,174.6 178.9,178.8 178.9,133.1 168.4,128.9"/><polygon points="178.9,178.8 187.8,174 187.8,128.3 178.9,133.1"/><polygon points="168.4,128.9 178.9,133.1 187.8,128.3 177.3,124.1"/><polygon points="181.6,179.8 192.1,184 192.1,134.4 181.6,130.2"/><polygon points="192.1,184 200.9,179.2 200.9,129.6 192.1,134.4"/><polygon points="181.6,130.2 192.1,134.4 200.9,129.6 190.4,125.5"/><polygon points="194.7,185 205.2,189.2 205.2,150 194.7,145.8"/><polygon points="205.2,189.2 214,184.4 214,145.2 205.2,150"/><polygon points="194.7,145.8 205.2,150 214,145.2 203.5,141.1"/><polygon points="207.8,190.2 218.3,194.4 218.3,180.9 207.8,176.7"/><polygon points="218.3,194.4 227.2,189.6 227.2,176.1 218.3,180.9"/><polygon points="207.8,176.7 218.3,180.9 227.2,176.1 216.7,172"/><polygon points="221,195.4 231.5,199.6 231.5,186.1 221,181.9"/><polygon points="231.5,199.6 240.3,194.8 240.3,181.3 231.5,186.1"/><polygon points="221,181.9 231.5,186.1 240.3,181.3 229.8,177.2"/><polygon points="234.1,200.6 244.6,204.8 244.6,76.5 234.1,72.3"/><polygon points="244.6,204.8 253.4,200 253.4,71.7 244.6,76.5"/><polygon points="234.1,72.3 244.6,76.5 253.4,71.7 242.9,67.6"/><polygon points="247.2,205.8 257.7,210 257.7,120.1 247.2,115.9"/><polygon points="257.7,210 266.6,205.2 266.6,115.3 257.7,120.1"/><polygon points="247.2,115.9 257.7,120.1 266.6,115.3 256.1,111.2"/></g>
<g class="b" fill="#ffcf00"><polygon points="65.5,144.2 76,148.3 76,140.4 65.5,136.2"/><polygon points="76,148.3 84.8,143.6 84.8,135.6 76,140.4"/><polygon points="65.5,136.2 76,140.4 84.8,135.6 74.3,131.4"/><polygon points="78.6,149.4 89.1,153.5 89.1,149 78.6,144.9"/><polygon points="89.1,153.5 98,148.8 98,144.3 89.1,149"/><polygon points="78.6,144.9 89.1,149 98,144.3 87.4,140.1"/><polygon points="91.7,154.6 102.2,158.7 102.2,141.5 91.7,137.4"/><polygon points="102.2,158.7 111.1,154 111.1,136.8 102.2,141.5"/><polygon points="91.7,137.4 102.2,141.5 111.1,136.8 100.6,132.6"/><polygon points="104.9,159.8 115.4,163.9 115.4,151.7 104.9,147.6"/><polygon points="115.4,163.9 124.2,159.2 124.2,147 115.4,151.7"/><polygon points="104.9,147.6 115.4,151.7 124.2,147 113.7,142.8"/><polygon points="118,165 128.5,169.1 128.5,159.5 118,155.3"/><polygon points="128.5,169.1 137.3,164.4 137.3,154.7 128.5,159.5"/><polygon points="118,155.3 128.5,159.5 137.3,154.7 126.8,150.6"/><polygon points="131.1,170.2 141.6,174.3 141.6,166 131.1,161.8"/><polygon points="141.6,174.3 150.5,169.6 150.5,161.2 141.6,166"/><polygon points="131.1,161.8 141.6,166 150.5,161.2 140,157.1"/><polygon points="144.3,175.4 154.8,179.5 154.8,172.7 144.3,168.6"/><polygon points="154.8,179.5 163.6,174.8 163.6,168 154.8,172.7"/><polygon points="144.3,168.6 154.8,172.7 163.6,168 153.1,163.8"/><polygon points="157.4,180.6 167.9,184.7 167.9,181.5 157.4,177.4"/><polygon points="167.9,184.7 176.7,180 176.7,176.8 167.9,181.5"/><polygon points="157.4,177.4 167.9,181.5 176.7,176.8 166.2,172.6"/><polygon points="170.5,185.8 181,189.9 181,171.7 170.5,167.5"/><polygon points="181,189.9 189.9,185.2 189.9,166.9 181,171.7"/><polygon points="170.5,167.5 181,171.7 189.9,166.9 179.4,162.8"/><polygon points="183.6,191 194.2,195.1 194.2,190.6 183.6,186.5"/><polygon points="194.2,195.1 203,190.4 203,185.9 194.2,190.6"/><polygon points="183.6,186.5 194.2,190.6 203,185.9 192.5,181.7"/><polygon points="196.8,196.2 207.3,200.3 207.3,195.8 196.8,191.7"/><polygon points="207.3,200.3 216.1,195.6 216.1,191.1 207.3,195.8"/><polygon points="196.8,191.7 207.3,195.8 216.1,191.1 205.6,186.9"/><polygon points="209.9,201.4 220.4,205.5 220.4,201 209.9,196.9"/><polygon points="220.4,205.5 229.3,200.8 229.3,196.3 220.4,201"/><polygon points="209.9,196.9 220.4,201 229.3,196.3 218.7,192.1"/><polygon points="223,206.6 233.5,210.7 233.5,82.2 223,78.1"/><polygon points="233.5,210.7 242.4,206 242.4,77.4 233.5,82.2"/><polygon points="223,78.1 233.5,82.2 242.4,77.4 231.9,73.3"/><polygon points="236.2,211.8 246.7,215.9 246.7,170.1 236.2,165.9"/><polygon points="246.7,215.9 255.5,211.2 255.5,165.3 246.7,170.1"/><polygon points="236.2,165.9 246.7,170.1 255.5,165.3 245,161.2"/></g>
<g class="b" fill="#00dfff"><polygon points="54.4,150.2 64.9,154.3 64.9,141.5 54.4,137.3"/><polygon points="64.9,154.3 73.8,149.5 73.8,136.7 64.9,141.5"/><polygon points="54.4,137.3 64.9,141.5 73.8,136.7 63.3,132.5"/><polygon points="67.6,155.3 78.1,159.5 78.1,150.5 67.6,146.4"/><polygon points="78.1,159.5 86.9,154.7 86.9,145.7 78.1,150.5"/><polygon points="67.6,146.4 78.1,150.5 86.9,145.7 76.4,141.6"/><polygon points="80.7,160.6 91.2,164.7 91.2,149.9 80.7,145.8"/><polygon points="91.2,164.7 100,159.9 100,145.2 91.2,149.9"/><polygon points="80.7,145.8 91.2,149.9 100,145.2 89.5,141"/><polygon points="93.8,165.8 104.3,169.9 104.3,150.7 93.8,146.5"/><polygon points="104.3,169.9 113.2,165.1 113.2,145.9 104.3,150.7"/><polygon points="93.8,146.5 104.3,150.7 113.2,145.9 102.7,141.7"/><polygon points="106.9,170.9 115.8,166.2 126.3,170.3 117.5,175.1"/><polygon points="120.1,176.2 130.6,180.3 130.6,172.5 120.1,168.3"/><polygon points="130.6,180.3 139.4,175.5 139.4,167.7 130.6,172.5"/><polygon points="120.1,168.3 130.6,172.5 139.4,167.7 128.9,163.5"/><polygon points="133.2,181.3 143.7,185.5 143.7,179.5 133.2,175.3"/><polygon points="143.7,185.5 152.6,180.7 152.6,174.7 143.7,179.5"/><polygon points="133.2,175.3 143.7,179.5 152.6,174.7 142,170.5"/><polygon points="146.3,186.5 156.8,190.7 156.8,186.2 146.3,182.1"/><polygon points="156.8,190.7 165.7,185.9 165.7,181.4 156.8,186.2"/><polygon points="146.3,182.1 156.8,186.2 165.7,181.4 155.2,177.3"/><polygon points="159.5,191.8 170,195.9 170,183.5 159.5,179.3"/><polygon points="170,195.9 178.8,191.1 178.8,178.7 170,183.5"/><polygon points="159.5,179.3 170,183.5 178.8,178.7 168.3,174.5"/><polygon points="172.6,197 183.1,201.1 183.1,193 172.6,188.9"/><polygon points="183.1,201.1 191.9,196.3 191.9,188.2 183.1,193"/><polygon points="172.6,188.9 183.1,193 191.9,188.2 181.4,184.1"/><polygon points="185.7,202.2 196.2,206.3 196.2,198.2 185.7,194.1"/><polygon points="196.2,206.3 205.1,201.5 205.1,193.4 196.2,198.2"/><polygon points="185.7,194.1 196.2,198.2 205.1,193.4 194.6,189.3"/><polygon points="198.9,207.3 209.4,211.5 209.4,207 198.9,202.9"/><polygon points="209.4,211.5 218.2,206.7 218.2,202.2 209.4,207"/><polygon points="198.9,202.9 209.4,207 218.2,202.2 207.7,198.1"/><polygon points="212,212.5 222.5,216.7 222.5,88.4 212,84.3"/><polygon points="222.5,216.7 231.3,211.9 231.3,83.7 222.5,88.4"/><polygon points="212,84.3 222.5,88.4 231.3,83.7 220.8,79.5"/><polygon points="225.1,217.8 235.6,221.9 235.6,182.7 225.1,178.6"/><polygon points="235.6,221.9 244.5,217.1 244.5,178 235.6,182.7"/><polygon points="225.1,178.6 235.6,182.7 244.5,178 234,173.8"/></g>
<g class="b" fill="#00008f"><polygon points="43.4,156.1 53.9,160.3 53.9,148.5 43.4,144.3"/><polygon points="53.9,160.3 62.7,155.5 62.7,143.7 53.9,148.5"/><polygon points="43.4,144.3 53.9,148.5 62.7,143.7 52.2,139.5"/><polygon points="56.5,161.3 67,165.5 67,155 56.5,150.8"/><polygon points="67,165.5 75.9,160.7 75.9,150.2 67,155"/><polygon points="56.5,150.8 67,155 75.9,150.2 65.3,146"/><polygon points="69.6,166.5 80.1,170.7 80.1,158.5 69.6,154.3"/><polygon points="80.1,170.7 89,165.9 89,153.7 80.1,158.5"/><polygon points="69.6,154.3 80.1,158.5 89,153.7 78.5,149.5"/><polygon points="82.8,171.7 93.3,175.9 93.3,149.6 82.8,145.4"/><polygon points="93.3,175.9 102.1,171.1 102.1,144.8 93.3,149.6"/><polygon points="82.8,145.4 93.3,149.6 102.1,144.8 91.6,140.6"/><polygon points="95.9,176.9 104.7,172.1 115.2,176.3 106.4,181.1"/><polygon points="109,182.1 119.5,186.3 119.5,176.8 109,172.6"/><polygon points="119.5,186.3 128.4,181.5 128.4,172 119.5,176.8"/><polygon points="109,172.6 119.5,176.8 128.4,172 117.9,167.8"/><polygon points="122.2,187.3 132.7,191.5 132.7,185.7 122.2,181.5"/><polygon points="132.7,191.5 141.5,186.7 141.5,180.9 132.7,185.7"/><polygon points="122.2,181.5 132.7,185.7 141.5,180.9 131,176.8"/><polygon points="135.3,192.5 145.8,196.7 145.8,192.2 135.3,188"/><polygon points="145.8,196.7 154.6,191.9 154.6,187.4 145.8,192.2"/><polygon points="135.3,188 145.8,192.2 154.6,187.4 144.1,183.2"/><polygon points="148.4,197.7 158.9,201.9 158.9,186.5 148.4,182.3"/><polygon points="158.9,201.9 167.8,197.1 167.8,181.7 158.9,186.5"/><polygon points="148.4,182.3 158.9,186.5 167.8,181.7 157.3,177.5"/><polygon points="161.5,202.9 172.1,207.1 172.1,197.2 161.5,193"/><polygon points="172.1,207.1 180.9,202.3 180.9,192.4 172.1,197.2"/><polygon points="161.5,193 172.1,197.2 180.9,192.4 170.4,188.3"/><polygon points="174.7,208.1 185.2,212.3 185.2,203.2 174.7,199"/><polygon points="185.2,212.3 194,207.5 194,198.4 185.2,203.2"/><polygon points="174.7,199 185.2,203.2 194,198.4 183.5,194.2"/><polygon points="187.8,213.3 198.3,217.5 198.3,208.4 187.8,204.2"/><polygon points="198.3,217.5 207.2,212.7 207.2,203.6 198.3,208.4"/><polygon points="187.8,204.2 198.3,208.4 207.2,203.6 196.6,199.4"/><polygon points="200.9,218.5 211.4,222.7 211.4,94.7 200.9,90.5"/><polygon points="211.4,222.7 220.3,217.9 220.3,89.9 211.4,94.7"/><polygon points="200.9,90.5 211.4,94.7 220.3,89.9 209.8,85.7"/><polygon points="214.1,223.7 224.6,227.9 224.6,194.5 214.1,190.3"/><polygon points="224.6,227.9 233.4,223.1 233.4,189.7 224.6,194.5"/><polygon points="214.1,190.3 224.6,194.5 233.4,189.7 222.9,185.6"/></g>
<text class="t" text-anchor="end" x="28.2" y="153.5">0</text><text class="t" text-anchor="end" x="28.2" y="127.8">0.2</text><text class="t" text-anchor="end" x="28.2" y="102.1">0.4</text><text class="t" text-anchor="end" x="28.2" y="76.5">0.6</text><text class="t" text-anchor="end" x="28.2" y="50.8">0.8</text><text class="t" text-anchor="end" x="28.2" y="25.1">1</text><text class="t" text-anchor="end" x="42.1" y="171">1</text><text class="t" text-anchor="end" x="55.3" y="176.2">2</text><text class="t" text-anchor="end" x="68.4" y="181.4">3</text><text class="t" text-anchor="end" x="81.5" y="186.6">4</text><text class="t" text-anchor="end" x="94.7" y="191.8">5</text><text class="t" text-anchor="end" x="107.8" y="197">6</text><text class="t" text-anchor="end" x="120.9" y="202.2">7</text><text class="t" text-anchor="end" x="134" y="207.4">8</text><text class="t" text-anchor="end" x="147.2" y="212.6">9</text><text class="t" text-anchor="end" x="160.3" y="217.8">10</text><text class="t" text-anchor="end" x="173.4" y="223">11</text><text class="t" text-anchor="end" x="186.6" y="228.2">12</text><text class="t" text-anchor="end" x="199.7" y="233.4">13</text><text class="t" text-anchor="end" x="212.8" y="238.6">14</text><text class="t" x="244.2" y="238.4">16</text><text class="t" x="255.2" y="232.4">11</text><text class="t" x="266.3" y="226.5">6</text><text class="t" x="277.3" y="220.5">1</text><text class="t v" text-anchor="middle" transform="translate(7.2,90.3) rotate(-90)">Normalized Similarity</text><text class="t" text-anchor="middle" x="114.8" y="239">Label of Motion</text><text class="t" text-anchor="middle" x="308.3" y="252.4">Dimensionality</text>
</g>
<text class="c" text-anchor="middle" x="166.4" y="267.6">(a)</text>
<text class="c" text-anchor="middle" x="515.2" y="267.6">(b)</text>
<text class="c" text-anchor="middle" x="166.4" y="543.3">(c)</text>
<text class="c" text-anchor="middle" x="515.2" y="543.3">(d)</text>
<text class="c" text-anchor="middle" x="166.4" y="819.8">(e)</text>
<text class="c" text-anchor="middle" x="515.2" y="819.8">(f)</text>
</svg>
</body>
</html>
